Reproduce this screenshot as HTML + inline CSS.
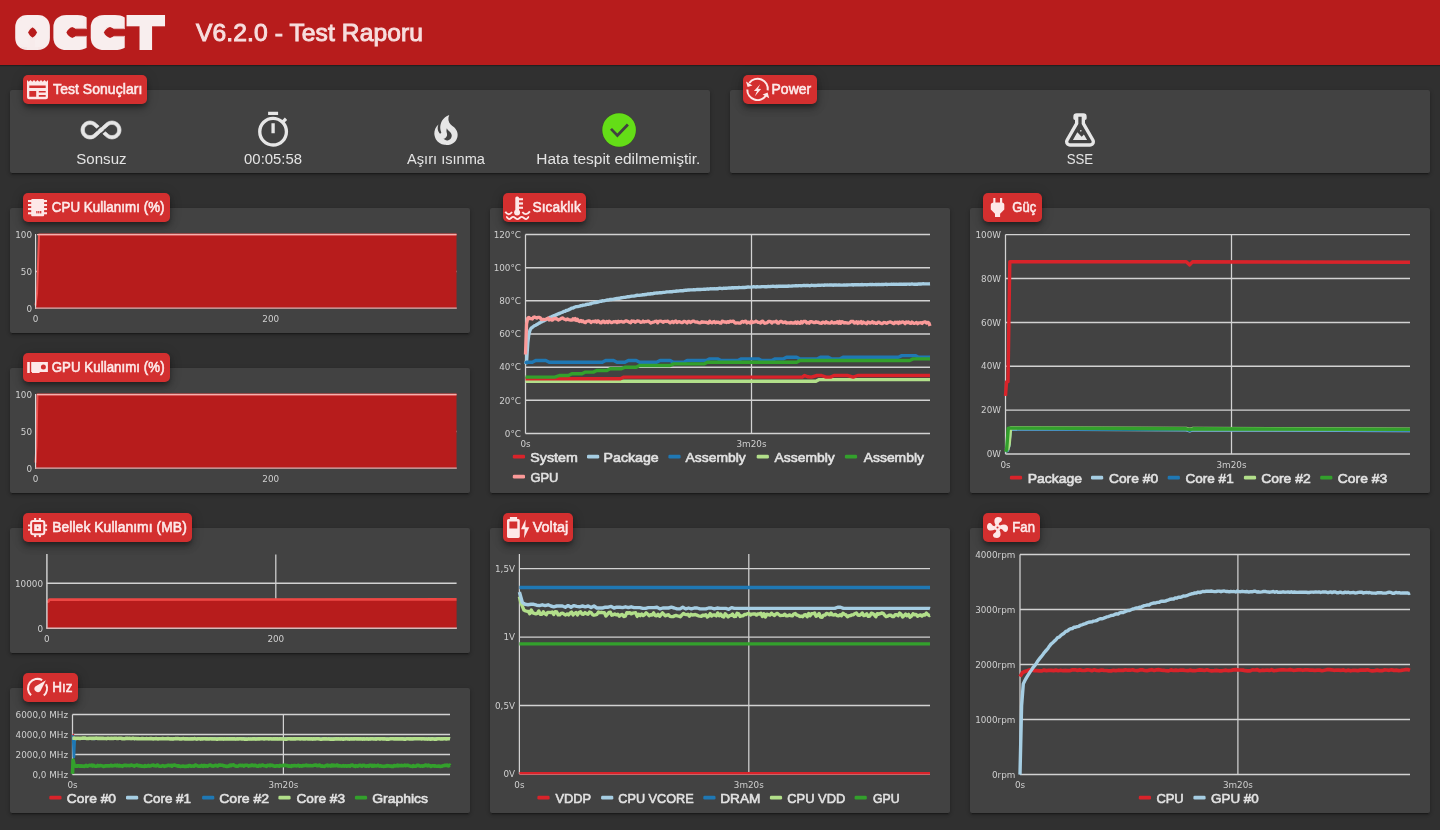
<!DOCTYPE html>
<html lang="tr"><head><meta charset="utf-8"><title>OCCT V6.2.0 - Test Raporu</title>
<style>
*{box-sizing:border-box;margin:0;padding:0}
html,body{width:1440px;height:830px;overflow:hidden;background:#303030;font-family:"Liberation Sans",sans-serif;}
#hdr{position:absolute;left:0;top:0;width:1440px;height:65px;background:#b71c1c;box-shadow:0 1px 1px rgba(0,0,0,.3)}
#title{position:absolute;left:195.6px;top:17.2px;font-size:24.6px;font-weight:normal;color:#f7dede;-webkit-text-stroke:0.95px #f7dede;white-space:nowrap;line-height:32px;letter-spacing:0.1px}
.card{position:absolute;background:#424242;border-radius:2px;box-shadow:0 3px 1px -2px rgba(0,0,0,.25),0 2px 3px 0 rgba(0,0,0,.2),0 1px 5px 0 rgba(0,0,0,.14)}
.tag{position:absolute;height:29px;background:#d32f2f;border-radius:5px;box-shadow:0 3px 5px -1px rgba(0,0,0,.38),0 5px 9px 0 rgba(0,0,0,.2),0 1px 14px 0 rgba(0,0,0,.12);color:#fbe9e9;font-size:14px;font-weight:normal;-webkit-text-stroke:0.55px #fbe9e9;line-height:29px;white-space:nowrap;letter-spacing:0.06px}
.tag span{position:absolute;left:29px;top:0}
.tag svg{position:absolute;left:0;top:0}
.res{position:absolute;text-align:center;color:#e4e4e4;font-size:15px;line-height:18px;white-space:nowrap;transform:translateX(-50%)}
#charts{position:absolute;left:0;top:0}
svg,#title{will-change:transform}
</style></head><body>
<div id="hdr"></div>
<svg id="logo" width="190" height="65" viewBox="0 0 190 65" style="position:absolute;left:0;top:0"><defs><filter id="blk" x="-10%" y="-30%" width="120%" height="160%"><feMorphology operator="dilate" radius="5.0"/></filter></defs><text y="44.50" font-family="DejaVu Sans, sans-serif" font-weight="200" font-size="33.34" fill="#f8eeee" filter="url(#blk)"><tspan x="17.00" textLength="31.12" lengthAdjust="spacingAndGlyphs">O</tspan><tspan x="55.00" textLength="28.82" lengthAdjust="spacingAndGlyphs">C</tspan><tspan x="92.25" textLength="29.75" lengthAdjust="spacingAndGlyphs">C</tspan><tspan x="130.50" textLength="30.61" lengthAdjust="spacingAndGlyphs">T</tspan></text></svg>
<div id="title">V6.2.0 - Test Raporu</div>
<div class="card" style="left:10px;top:90px;width:700px;height:83px"></div>
<div class="card" style="left:730px;top:90px;width:700px;height:83px"></div>
<div class="card" style="left:10px;top:208px;width:460px;height:125px"></div>
<div class="card" style="left:10px;top:368px;width:460px;height:125px"></div>
<div class="card" style="left:10px;top:528px;width:460px;height:125px"></div>
<div class="card" style="left:10px;top:688px;width:460px;height:125px"></div>
<div class="card" style="left:490px;top:208px;width:460px;height:285px"></div>
<div class="card" style="left:490px;top:528px;width:460px;height:285px"></div>
<div class="card" style="left:970px;top:208px;width:460px;height:285px"></div>
<div class="card" style="left:970px;top:528px;width:460px;height:285px"></div>
<div class="tag" style="left:23px;top:75px;width:124px"><svg width="124" height="29" viewBox="0 0 124 29"><path fill-rule="evenodd" fill="#fde8e8" d="M4,5 L5.75,6.7 L7.50,5 L9.25,6.7 L11.00,5 L12.75,6.7 L14.50,5 L16.25,6.7 L18.00,5 L19.75,6.7 L21.50,5 L23.25,6.7 L25.00,5 L25,22.2 Q25,24.2 23,24.2 L6,24.2 Q4,24.2 4,22.2 Z M6.3,10.4 H22.7 V13 H6.3 Z M6.3,16 H13.2 V21.7 H6.3 Z M15.8,16 H22.7 V17.4 H15.8 Z M15.8,20 H22.7 V21.7 H15.8 Z"/><text x="30.12" y="18.7" font-size="13.8" fill="#fdeaea" stroke="#fdeaea" stroke-width="0.55" textLength="89.24" lengthAdjust="spacingAndGlyphs">Test Sonuçları</text></svg></div>
<div class="tag" style="left:743px;top:75px;width:74px"><svg width="74" height="29" viewBox="0 0 74 29"><g fill="none" stroke="#fde8e8" stroke-width="2"><path d="M6.3,8.0 A10.2,10.2 0 0 1 24.7,15.4"/><path d="M4.3,14.6 A10.2,10.2 0 0 0 22.9,20.6"/></g><path fill="#fde8e8" d="M3.0,6.4 L4.6,12.0 L9.4,10.4 Z M26.2,23.2 L24.6,17.4 L19.6,19.4 Z"/><path fill="#fde8e8" d="M17.2,9.2 L10.9,15.9 L14.0,16.1 L11.9,21.2 L18.1,14.0 L15.0,13.8 Z"/><text x="28.52" y="18.7" font-size="13.8" fill="#fdeaea" stroke="#fdeaea" stroke-width="0.55" textLength="39.73" lengthAdjust="spacingAndGlyphs">Power</text></svg></div>
<div class="tag" style="left:23px;top:193px;width:147px"><svg width="147" height="29" viewBox="0 0 147 29"><g fill="#fde8e8"><rect x="5" y="7.0" width="19" height="2.1"/><rect x="5" y="11.0" width="19" height="2.1"/><rect x="5" y="15.0" width="19" height="2.1"/><rect x="5" y="19.2" width="19" height="2.1"/><rect x="8.2" y="5.9" width="12.9" height="17.3" rx="1"/></g><g fill="#d32f2f"><rect x="13.3" y="18" width="1.2" height="2.4"/><rect x="15.2" y="18" width="1.2" height="2.4"/><rect x="17.1" y="18" width="1.2" height="2.4"/></g><text x="28.76" y="18.7" font-size="13.8" fill="#fdeaea" stroke="#fdeaea" stroke-width="0.55" textLength="112.86" lengthAdjust="spacingAndGlyphs">CPU Kullanımı (%)</text></svg></div>
<div class="tag" style="left:23px;top:353px;width:147px"><svg width="147" height="29" viewBox="0 0 147 29"><g fill="#fde8e8"><rect x="4.2" y="9" width="2.6" height="11"/><path d="M8.2,9 H24.9 V18.9 H16.6 V20 H9 V18.9 H8.2 Z"/></g><circle cx="20.4" cy="14.1" r="2.5" fill="#d32f2f"/><text x="28.76" y="18.7" font-size="13.8" fill="#fdeaea" stroke="#fdeaea" stroke-width="0.55" textLength="112.86" lengthAdjust="spacingAndGlyphs">GPU Kullanımı (%)</text></svg></div>
<div class="tag" style="left:23px;top:513px;width:169px"><svg width="169" height="29" viewBox="0 0 169 29"><g fill="#fde8e8"><rect x="11.1" y="5" width="2.1" height="3"/><rect x="15.8" y="5" width="2.1" height="3"/><rect x="11.1" y="21.3" width="2.1" height="2.8"/><rect x="15.8" y="21.3" width="2.1" height="2.8"/><rect x="5" y="11.5" width="3" height="1.9"/><rect x="5" y="15.8" width="3" height="1.9"/><rect x="21.3" y="11.5" width="2.8" height="1.9"/><rect x="21.3" y="15.8" width="2.8" height="1.9"/><rect x="11.2" y="11.2" width="6.8" height="6.8"/></g><rect x="8.1" y="7.9" width="13.2" height="13.4" rx="2" fill="none" stroke="#fde8e8" stroke-width="2"/><circle cx="14.6" cy="14.6" r="0.9" fill="#d32f2f"/><text x="29.26" y="18.7" font-size="13.8" fill="#fdeaea" stroke="#fdeaea" stroke-width="0.55" textLength="134.60" lengthAdjust="spacingAndGlyphs">Bellek Kullanımı (MB)</text></svg></div>
<div class="tag" style="left:23px;top:673px;width:55px"><svg width="55" height="29" viewBox="0 0 55 29"><g fill="none" stroke="#fde8e8" stroke-width="2.1"><path d="M8.02,22.3 A9.5,9.5 0 0 1 19.19,7.09"/><path d="M23.05,11.2 A9.5,9.5 0 0 1 20.81,22.45"/></g><path fill="#fde8e8" d="M22.9,7.2 L12.3,13.5 A3.4,3.4 0 1 0 17.5,17.9 Z"/><text x="29.26" y="18.7" font-size="13.8" fill="#fdeaea" stroke="#fdeaea" stroke-width="0.55" textLength="20.36" lengthAdjust="spacingAndGlyphs">Hız</text></svg></div>
<div class="tag" style="left:503px;top:193px;width:83px"><svg width="83" height="29" viewBox="0 0 83 29"><g fill="#fde8e8"><rect x="12.3" y="3.4" width="3.7" height="15" rx="1.6"/><circle cx="14.1" cy="19.6" r="3"/><rect x="15" y="5.2" width="5" height="2.1"/><rect x="15" y="9.4" width="5" height="2.2"/><rect x="15" y="13.7" width="5" height="2.1"/></g><g fill="none" stroke="#fde8e8" stroke-width="1.9"><path d="M2.3,18.7 Q5.5,23.6 9,19"/><path d="M19.3,19 Q23,23.6 26.9,18.4"/><path d="M3.1,23.9 C4.3,23.9 4.9,26.1 6.1,26.1 C7.6,26.1 8.6,23.9 10.1,23.9 C11.7,23.9 12.9,26.1 14.5,26.1 C16.1,26.1 17.1,23.9 18.7,23.9 C20.3,23.9 21.6,26.1 23.2,26.1 C24.4,26.1 24.9,23.9 26.1,23.9"/></g><text x="29.50" y="18.7" font-size="13.8" fill="#fdeaea" stroke="#fdeaea" stroke-width="0.55" textLength="48.56" lengthAdjust="spacingAndGlyphs">Sıcaklık</text></svg></div>
<div class="tag" style="left:503px;top:513px;width:70px"><svg width="70" height="29" viewBox="0 0 70 29"><path fill="#fde8e8" fill-rule="evenodd" d="M6.9,4 H14.1 V5.9 H15.3 Q16.8,5.9 16.8,7.4 V23.6 Q16.8,25 15.3,25 H5.5 Q4,25 4,23.6 V7.4 Q4,5.9 5.5,5.9 H6.9 Z M6.4,8.4 H14.3 V15.4 H6.4 Z"/><path fill="#fde8e8" d="M22.6,6.6 L18,16.2 L21.6,16.2 L21.0,25.2 L26.3,14.2 L22.4,14.2 Z"/><text x="29.68" y="18.7" font-size="13.8" fill="#fdeaea" stroke="#fdeaea" stroke-width="0.55" textLength="35.62" lengthAdjust="spacingAndGlyphs">Voltaj</text></svg></div>
<div class="tag" style="left:983px;top:193px;width:59px"><svg width="59" height="29" viewBox="0 0 59 29"><path fill="#fde8e8" d="M10.3,5 H12.4 V9.4 H17 V5 H19.2 V9.4 Q21.3,9.6 21.3,11.6 V16.6 L17.1,20.8 V24 H12 V20.8 L7.8,16.6 V11.6 Q7.8,9.6 10.3,9.4 Z"/><text x="29.32" y="18.7" font-size="13.8" fill="#fdeaea" stroke="#fdeaea" stroke-width="0.55" textLength="23.93" lengthAdjust="spacingAndGlyphs">Güç</text></svg></div>
<div class="tag" style="left:983px;top:513px;width:57px"><svg width="57" height="29" viewBox="0 0 57 29"><path fill="#fde8e8" fill-rule="evenodd" transform="translate(1.9,1.9) scale(1.05)" d="M12,11A1,1 0 0,0 11,12A1,1 0 0,0 12,13A1,1 0 0,0 13,12A1,1 0 0,0 12,11M12.5,2C17,2 17.11,5.57 14.75,6.75C13.76,7.24 13.32,8.29 13.13,9.22C13.61,9.42 14.03,9.73 14.35,10.13C18.05,8.13 22.03,8.92 22.03,12.5C22.03,17 18.46,17.1 17.28,14.73C16.78,13.74 15.72,13.3 14.79,13.11C14.59,13.59 14.28,14 13.88,14.34C15.87,18.03 15.08,22 11.5,22C7,22 6.91,18.42 9.27,17.24C10.25,16.75 10.69,15.71 10.89,14.79C10.4,14.59 9.97,14.27 9.65,13.87C5.96,15.85 2,15.07 2,11.5C2,7 5.56,6.89 6.74,9.26C7.24,10.25 8.29,10.68 9.22,10.87C9.41,10.39 9.73,9.97 10.14,9.65C8.15,5.96 8.94,2 12.5,2Z"/><text x="29.32" y="18.7" font-size="13.8" fill="#fdeaea" stroke="#fdeaea" stroke-width="0.55" textLength="22.73" lengthAdjust="spacingAndGlyphs">Fan</text></svg></div>
<svg style="position:absolute;left:0;top:0" width="1440" height="180" viewBox="0 0 1440 180" font-family='"Liberation Sans", sans-serif'><path transform="translate(81.0,110) scale(1.6667)" fill="#e6e6e6" fill-rule="evenodd" d="M18.6,6.62C21.58,6.62 24,9 24,12C24,14.96 21.58,17.37 18.6,17.37C17.15,17.37 15.8,16.81 14.78,15.8L12,13.34L9.17,15.85C8.2,16.82 6.84,17.38 5.4,17.38C2.42,17.38 0,14.96 0,12C0,9.04 2.42,6.62 5.4,6.62C6.84,6.62 8.2,7.18 9.22,8.2L12,10.66L14.83,8.15C15.8,7.18 17.16,6.62 18.6,6.62M7.8,14.39L10.5,12L7.84,9.65C7.16,8.97 6.31,8.62 5.4,8.62C3.53,8.62 2,10.13 2,12C2,13.87 3.53,15.38 5.4,15.38C6.31,15.38 7.16,15.03 7.8,14.39M16.2,9.61L13.5,12L16.16,14.35C16.84,15.03 17.7,15.38 18.6,15.38C20.47,15.38 22,13.87 22,12C22,10.13 20.47,8.62 18.6,8.62C17.69,8.62 16.84,8.97 16.2,9.61Z" stroke="#e6e6e6" stroke-width="0.42"/><g stroke="#424242" stroke-width="1.7" fill="none"><path d="M100.3,134.7 L105.6,130.0"/><path d="M96.4,130.0 L101.7,125.3"/></g><path transform="translate(253.1,110) scale(1.6667)" fill="#e6e6e6" fill-rule="evenodd" d="M12,20A7,7 0 0,1 5,13A7,7 0 0,1 12,6A7,7 0 0,1 19,13A7,7 0 0,1 12,20M19.03,7.39L20.45,5.97C20,5.46 19.55,5 19.04,4.56L17.62,6C16.07,4.74 14.12,4 12,4A9,9 0 0,0 3,13A9,9 0 0,0 12,22C17,22 21,17.97 21,13C21,10.88 20.26,8.93 19.03,7.39M11,14H13V8H11M15,1H9V3H15V1Z"/><path transform="translate(426.0,110) scale(1.6667)" fill="#e6e6e6" fill-rule="evenodd" d="M17.66 11.2C17.43 10.9 17.15 10.64 16.89 10.38C16.22 9.78 15.46 9.35 14.82 8.72C13.33 7.26 13 4.85 13.95 3C13 3.23 12.17 3.75 11.46 4.32C8.87 6.4 7.85 10.07 9.07 13.22C9.11 13.32 9.15 13.42 9.15 13.55C9.15 13.77 9 13.97 8.8 14.05C8.57 14.15 8.33 14.09 8.14 13.93C8.08 13.88 8.04 13.83 8 13.76C6.87 12.33 6.69 10.28 7.45 8.64C5.78 10 4.87 12.3 5 14.47C5.06 14.97 5.12 15.47 5.29 15.97C5.43 16.57 5.7 17.17 6 17.7C7.08 19.43 8.95 20.67 10.96 20.92C13.1 21.19 15.39 20.8 17.03 19.32C18.86 17.66 19.5 15 18.56 12.72L18.43 12.46C18.22 12 17.66 11.2 17.66 11.2M14.5 17.5C14.22 17.74 13.76 18 13.4 18.1C12.28 18.5 11.16 17.94 10.5 17.28C11.69 17 12.4 16.12 12.61 15.23C12.78 14.43 12.46 13.77 12.33 13C12.21 12.26 12.23 11.63 12.5 10.94C12.69 11.32 12.89 11.7 13.13 12C13.9 13 15.11 13.44 15.37 14.8C15.41 14.94 15.43 15.08 15.43 15.23C15.46 16.05 15.1 16.95 14.5 17.5H14.5Z"/><circle cx="619.1" cy="130" r="17.3" fill="#3a4a2c"/><circle cx="619.1" cy="130" r="16.8" fill="#64dd17"/><polyline points="611,128.85 617.4,135.45 627.9,124.5" fill="none" stroke="#414141" stroke-width="2.8"/><path transform="translate(1060.0,110) scale(1.6667)" fill="#e6e6e6" fill-rule="evenodd" d="M5,19A1,1 0 0,0 6,20H18A1,1 0 0,0 19,19C19,18.79 18.93,18.59 18.82,18.43L13,8.35V4H11V8.35L5.18,18.43C5.07,18.59 5,18.79 5,19M6,22A3,3 0 0,1 3,19C3,18.4 3.18,17.84 3.5,17.37L9,7.81V6A1,1 0 0,1 8,5V4A2,2 0 0,1 10,2H14A2,2 0 0,1 16,4V5A1,1 0 0,1 15,6V7.81L20.5,17.37C20.82,17.84 21,18.4 21,19A3,3 0 0,1 18,22H6M13,16L14.34,14.66L16.27,18H7.73L10.39,13.39L13,16M12.5,12A0.5,0.5 0 0,1 13,12.5A0.5,0.5 0 0,1 12.5,13A0.5,0.5 0 0,1 12,12.5A0.5,0.5 0 0,1 12.5,12Z"/><text x="76.32" y="164" font-size="15.2" fill="#e4e4e4" textLength="50.23" lengthAdjust="spacingAndGlyphs">Sonsuz</text><text x="244.08" y="164" font-size="15.2" fill="#e4e4e4" textLength="57.97" lengthAdjust="spacingAndGlyphs">00:05:58</text><text x="407.04" y="164" font-size="15.2" fill="#e4e4e4" textLength="77.96" lengthAdjust="spacingAndGlyphs">Aşırı ısınma</text><text x="536.32" y="164" font-size="15.2" fill="#e4e4e4" textLength="163.90" lengthAdjust="spacingAndGlyphs">Hata tespit edilmemiştir.</text><text x="1066.70" y="164" font-size="15.2" fill="#e4e4e4" textLength="26.51" lengthAdjust="spacingAndGlyphs">SSE</text></svg>
<svg id="charts" width="1440" height="830" viewBox="0 0 1440 830" font-family='"Liberation Sans", sans-serif'>
<line x1="35.5" y1="271.5" x2="456.5" y2="271.5" stroke="#d2d2d2" stroke-width="1.45"/>
<text x="32" y="274.7" text-anchor="end" font-family="DejaVu Sans, sans-serif" font-size="8.8" fill="#cfcfcf">50</text>
<text x="32" y="311.7" text-anchor="end" font-family="DejaVu Sans, sans-serif" font-size="8.8" fill="#cfcfcf">0</text>
<text x="32" y="237.7" text-anchor="end" font-family="DejaVu Sans, sans-serif" font-size="8.8" fill="#cfcfcf">100</text>
<text x="35.5" y="322" text-anchor="middle" font-family="DejaVu Sans, sans-serif" font-size="8.8" fill="#cfcfcf">0</text>
<text x="270.7" y="322" text-anchor="middle" font-family="DejaVu Sans, sans-serif" font-size="8.8" fill="#cfcfcf">200</text>
<polygon points="35.5,308.5 35.5,305.5 37,293.7 39,234.5 456.5,234.5 456.5,308.5" fill="#b71c1c"/>
<polyline points="35.5,305.5 37,293.7 39,234.5 456.5,234.5" fill="none" stroke="#ef5350" stroke-width="2" stroke-linejoin="round"/>
<line x1="37" y1="234.6" x2="456.5" y2="234.6" stroke="#f3b0ae" stroke-width="1.1"/>
<line x1="35.6" y1="234" x2="35.6" y2="309" stroke="#e0e0e0" stroke-width="1.1"/>
<line x1="35" y1="308.2" x2="456.8" y2="308.2" stroke="#d0b4b4" stroke-width="1.3"/>
<line x1="35.5" y1="431.5" x2="456.5" y2="431.5" stroke="#d2d2d2" stroke-width="1.45"/>
<text x="32" y="434.7" text-anchor="end" font-family="DejaVu Sans, sans-serif" font-size="8.8" fill="#cfcfcf">50</text>
<text x="32" y="471.7" text-anchor="end" font-family="DejaVu Sans, sans-serif" font-size="8.8" fill="#cfcfcf">0</text>
<text x="32" y="397.7" text-anchor="end" font-family="DejaVu Sans, sans-serif" font-size="8.8" fill="#cfcfcf">100</text>
<text x="35.5" y="482" text-anchor="middle" font-family="DejaVu Sans, sans-serif" font-size="8.8" fill="#cfcfcf">0</text>
<text x="270.7" y="482" text-anchor="middle" font-family="DejaVu Sans, sans-serif" font-size="8.8" fill="#cfcfcf">200</text>
<polygon points="35.5,468.5 35.5,462.6 36.4,446.3 37.4,394.5 456.5,394.5 456.5,468.5" fill="#b71c1c"/>
<polyline points="35.5,462.6 36.4,446.3 37.4,394.5 456.5,394.5" fill="none" stroke="#ef5350" stroke-width="2" stroke-linejoin="round"/>
<line x1="37" y1="394.6" x2="456.5" y2="394.6" stroke="#f3b0ae" stroke-width="1.1"/>
<line x1="35.6" y1="394" x2="35.6" y2="469" stroke="#e0e0e0" stroke-width="1.1"/>
<line x1="35" y1="468.2" x2="456.8" y2="468.2" stroke="#d0b4b4" stroke-width="1.3"/>
<line x1="46.9" y1="628.3" x2="456.6" y2="628.3" stroke="#d2d2d2" stroke-width="1.45"/>
<text x="43" y="631.5" text-anchor="end" font-family="DejaVu Sans, sans-serif" font-size="8.8" fill="#cfcfcf">0</text>
<line x1="46.9" y1="583.3" x2="456.6" y2="583.3" stroke="#d2d2d2" stroke-width="1.45"/>
<text x="43" y="586.5" text-anchor="end" font-family="DejaVu Sans, sans-serif" font-size="8.8" fill="#cfcfcf">10000</text>
<line x1="275.8" y1="554.5" x2="275.8" y2="628.3" stroke="#d2d2d2" stroke-width="1.25"/>
<text x="275.8" y="642" text-anchor="middle" font-family="DejaVu Sans, sans-serif" font-size="8.8" fill="#cfcfcf">200</text>
<text x="46.9" y="642" text-anchor="middle" font-family="DejaVu Sans, sans-serif" font-size="8.8" fill="#cfcfcf">0</text>
<polygon points="46.9,628.3 46.9,601.9 48.3,601.5 49.4,599.6 456.6,599.4 456.6,628.3" fill="#b71c1c"/>
<polyline points="46.9,601.9 48.3,601.5 49.4,599.6 456.6,599.4" fill="none" stroke="#ee4744" stroke-width="2.6" stroke-linejoin="round"/>
<line x1="46.9" y1="554" x2="46.9" y2="628.8" stroke="#d2d2d2" stroke-width="1.45"/>
<line x1="46.3" y1="628.2" x2="456.8" y2="628.2" stroke="#d8c0c0" stroke-width="1.2"/>
<line x1="72.5" y1="774.5" x2="450" y2="774.5" stroke="#d2d2d2" stroke-width="1.45"/>
<text x="68" y="777.7" text-anchor="end" font-family="DejaVu Sans, sans-serif" font-size="8.8" fill="#cfcfcf">0,0 MHz</text>
<line x1="72.5" y1="754.5" x2="450" y2="754.5" stroke="#d2d2d2" stroke-width="1.45"/>
<text x="68" y="757.7" text-anchor="end" font-family="DejaVu Sans, sans-serif" font-size="8.8" fill="#cfcfcf">2000,0 MHz</text>
<line x1="72.5" y1="734.5" x2="450" y2="734.5" stroke="#d2d2d2" stroke-width="1.45"/>
<text x="68" y="737.7" text-anchor="end" font-family="DejaVu Sans, sans-serif" font-size="8.8" fill="#cfcfcf">4000,0 MHz</text>
<line x1="72.5" y1="714.5" x2="450" y2="714.5" stroke="#d2d2d2" stroke-width="1.45"/>
<text x="68" y="717.7" text-anchor="end" font-family="DejaVu Sans, sans-serif" font-size="8.8" fill="#cfcfcf">6000,0 MHz</text>
<line x1="72.5" y1="714.5" x2="72.5" y2="774.5" stroke="#d2d2d2" stroke-width="1.25"/>
<text x="72.5" y="788" text-anchor="middle" font-family="DejaVu Sans, sans-serif" font-size="8.8" fill="#cfcfcf">0s</text>
<line x1="283.4" y1="714.5" x2="283.4" y2="774.5" stroke="#d2d2d2" stroke-width="1.25"/>
<text x="283.4" y="788" text-anchor="middle" font-family="DejaVu Sans, sans-serif" font-size="8.8" fill="#cfcfcf">3m20s</text>
<polyline points="72.5,735 73.2,736.5 73.9,757 74.7,738.5" fill="none" stroke="#1f78b4" stroke-width="2.8" stroke-linejoin="round" stroke-linecap="butt"/>
<polyline points="72.5,734.5 74.1,734.7" fill="none" stroke="#d9232a" stroke-width="1.6" stroke-linejoin="round" stroke-linecap="butt"/>
<polyline points="72.5,773.9 73.1,760 74.2,765.5 75,765.9 75.9,766.2 76.7,765.7 77.6,766.2 78.4,765.8 79.2,765.9 80.1,766.3 80.9,765.9 81.8,766.3 82.6,766 83.5,766.3 84.3,766.4 85.2,766 86,765.4 86.8,766.1 87.7,766.1 88.5,765.7 89.4,765.2 90.2,765.4 91.1,765.7 91.9,765.1 92.7,766.1 93.6,765.4 94.4,765.9 95.3,766.2 96.1,766.3 97,766.1 97.8,765.4 98.7,766 99.5,765.7 100.3,765.5 101.2,765.8 102,765.7 102.9,766.2 103.7,766.4 104.6,766.3 105.4,765.7 106.2,765.8 107.1,765.9 107.9,765.7 108.8,765.7 109.6,766 110.5,765.4 111.3,765.4 112.1,765.9 113,765.7 113.8,765.7 114.7,765.2 115.5,765.3 116.4,765.8 117.2,765.2 118.1,766 118.9,765.9 119.7,765.4 120.6,766 121.4,765.8 122.3,766.3 123.1,765.7 124,765.4 124.8,765.5 125.6,765.2 126.5,765.8 127.3,765.5 128.2,765.5 129,765.6 129.9,765.7 130.7,765.3 131.6,765.1 132.4,765.5 133.2,765.5 134.1,766.1 134.9,765.6 135.8,765.5 136.6,765.1 137.5,765.1 138.3,765.8 139.1,765.9 140,765.5 140.8,766.2 141.7,765.9 142.5,766.2 143.4,766.3 144.2,766.4 145,765.6 145.9,766.1 146.7,766.1 147.6,766 148.4,765.3 149.3,766.1 150.1,765.9 151,765.7 151.8,765.2 152.6,765.2 153.5,765.1 154.3,765.8 155.2,765.8 156,765.9 156.9,765.3 157.7,765 158.5,765.9 159.4,766.2 160.2,766.2 161.1,766.2 161.9,765.9 162.8,765.6 163.6,766 164.4,766.4 165.3,766 166.1,765.9 167,765.7 167.8,765.2 168.7,765.3 169.5,765.6 170.4,765.5 171.2,765.4 172,766.2 172.9,765.4 173.7,765.3 174.6,765.1 175.4,765.2 176.3,765.7 177.1,765.8 177.9,766.2 178.8,765.7 179.6,766.2 180.5,766.4 181.3,766.2 182.2,766.3 183,766.1 183.9,766.3 184.7,766.5 185.5,766.4 186.4,766.4 187.2,766.1 188.1,766.4 188.9,765.5 189.8,765.5 190.6,766.1 191.4,766.1 192.3,766 193.1,766 194,766.2 194.8,765.4 195.7,765 196.5,765.5 197.3,765.7 198.2,766.2 199,766.3 199.9,766.1 200.7,766.1 201.6,765.4 202.4,766 203.3,766.4 204.1,765.4 204.9,765.6 205.8,766.1 206.6,765.8 207.5,766.3 208.3,765.8 209.2,765.2 210,765.1 210.8,765.3 211.7,765.9 212.5,765.9 213.4,766.2 214.2,765.5 215.1,765.6 215.9,765.3 216.8,765.8 217.6,766.1 218.4,765.4 219.3,765 220.1,765.1 221,765.2 221.8,765.2 222.7,765.3 223.5,765.9 224.3,765.7 225.2,765.9 226,766.3 226.9,766.4 227.7,766.2 228.6,766.1 229.4,765.6 230.2,765.1 231.1,765.6 231.9,765.1 232.8,765 233.6,764.9 234.5,765.6 235.3,766 236.2,766.1 237,766.2 237.8,766.2 238.7,765.7 239.5,765.2 240.4,765.2 241.2,765.6 242.1,765.5 242.9,765.3 243.7,766.1 244.6,765.6 245.4,765.2 246.3,765.2 247.1,765.3 248,765.6 248.8,766.1 249.7,765.5 250.5,765.8 251.3,765.4 252.2,765 253,765.6 253.9,765.8 254.7,765.2 255.6,765.3 256.4,766 257.2,766.2 258.1,766.3 258.9,765.4 259.8,765.2 260.6,766 261.5,765.4 262.3,765 263.1,765.3 264,765.8 264.8,765.7 265.7,766.1 266.5,766.4 267.4,765.4 268.2,765.4 269.1,765.6 269.9,765.1 270.7,765.6 271.6,765.2 272.4,765.2 273.3,765.9 274.1,766.1 275,766.1 275.8,766.1 276.6,765.7 277.5,766 278.3,765.9 279.2,766.2 280,765.4 280.9,765.8 281.7,765.8 282.6,765.6 283.4,765.2 284.2,765.6 285.1,765.2 285.9,765.5 286.8,765.6 287.6,765.6 288.5,766.3 289.3,765.9 290.1,766.1 291,766.4 291.8,765.6 292.7,766 293.5,765.8 294.4,765.5 295.2,765.6 296,765.9 296.9,765.7 297.7,765.6 298.6,765.3 299.4,766.1 300.3,765.7 301.1,766 302,766.1 302.8,765.5 303.6,765.6 304.5,765.6 305.3,765.4 306.2,765.1 307,765.6 307.9,765.5 308.7,765.6 309.5,765.7 310.4,765.5 311.2,765.7 312.1,765.7 312.9,765.7 313.8,765.2 314.6,765.3 315.4,765.1 316.3,765 317.1,765.8 318,765.7 318.8,765.2 319.7,765.1 320.5,766 321.4,766.2 322.2,765.9 323,766.3 323.9,766.2 324.7,766.4 325.6,765.7 326.4,765.4 327.3,765.1 328.1,765.9 328.9,765.5 329.8,765.5 330.6,766.1 331.5,765.3 332.3,765 333.2,765.8 334,765.2 334.9,765.7 335.7,765.7 336.5,765.1 337.4,765.1 338.2,765.9 339.1,765.9 339.9,765.7 340.8,765.9 341.6,766.1 342.4,766 343.3,765.5 344.1,766.2 345,765.8 345.8,765.8 346.7,766.3 347.5,766.1 348.3,765.7 349.2,765.7 350,766.2 350.9,765.3 351.7,765.2 352.6,765 353.4,766 354.3,766.1 355.1,766.4 355.9,765.6 356.8,765.9 357.6,766.2 358.5,765.9 359.3,765.3 360.2,765.2 361,765.8 361.8,766.2 362.7,765.3 363.5,765.5 364.4,765.4 365.2,766.1 366.1,766.3 366.9,765.7 367.8,765.8 368.6,766.2 369.4,765.3 370.3,765.4 371.1,765.3 372,766.1 372.8,765.4 373.7,766.1 374.5,765.4 375.3,765.7 376.2,765.9 377,765.7 377.9,765.2 378.7,765.8 379.6,766.2 380.4,765.8 381.2,766 382.1,766.3 382.9,766.3 383.8,766.4 384.6,766.3 385.5,766.1 386.3,766.1 387.2,765.5 388,765.9 388.8,765.8 389.7,766.1 390.5,766 391.4,766.4 392.2,766.2 393.1,766.4 393.9,765.6 394.7,765.6 395.6,766 396.4,765.8 397.3,765.2 398.1,766 399,765.4 399.8,765.7 400.7,765.7 401.5,765.3 402.3,765.7 403.2,765.7 404,765.5 404.9,765.1 405.7,765.7 406.6,765.3 407.4,765.3 408.2,765.4 409.1,765.7 409.9,765.9 410.8,766.3 411.6,766.3 412.5,766.4 413.3,765.6 414.1,766 415,766.2 415.8,766.3 416.7,765.5 417.5,765.2 418.4,765.3 419.2,765.9 420.1,766.1 420.9,766.1 421.7,765.9 422.6,766.2 423.4,765.9 424.3,766 425.1,765.3 426,765 426.8,765.4 427.6,765.9 428.5,765.2 429.3,765.8 430.2,765.9 431,766.4 431.9,766 432.7,765.8 433.6,765.7 434.4,766.1 435.2,765.8 436.1,766.3 436.9,766.2 437.8,766.3 438.6,766 439.5,766.3 440.3,766.5 441.1,766.2 442,766.2 442.8,765.7 443.7,765.7 444.5,765.4 445.4,765.4 446.2,765.4 447,765.1 447.9,765.7 448.7,765.9 449.6,765.2 450,765.7" fill="none" stroke="#33a02c" stroke-width="3.6" stroke-linejoin="round" stroke-linecap="butt"/>
<polyline points="72.5,738.8 73.6,738.5 74.6,738.5 75.7,738.8 76.7,738.5 77.8,738.4 78.8,738.5 79.9,738.4 80.9,738.4 82,738.7 83,738.6 84.1,738.6 85.2,738.4 86.2,738.4 87.3,738.4 88.3,738.5 89.4,738.4 90.4,738.4 91.5,738.5 92.5,738.7 93.6,738.9 94.6,738.9 95.7,738.7 96.8,738.8 97.8,738.5 98.9,738.5 99.9,738.5 101,738.5 102,738.5 103.1,738.6 104.1,738.8 105.2,738.5 106.2,738.5 107.3,738.6 108.4,738.6 109.4,738.5 110.5,738.8 111.5,738.5 112.6,738.7 113.6,738.8 114.7,738.8 115.7,738.5 116.8,738.7 117.8,738.5 118.9,738.3 120,738.5 121,738.6 122.1,738.6 123.1,738.5 124.2,738.4 125.2,738.5 126.3,738.5 127.3,738.8 128.4,738.8 129.4,738.8 130.5,738.5 131.6,738.7 132.6,738.6 133.7,738.8 134.7,738.9 135.8,738.8 136.8,738.6 137.9,738.5 138.9,738.5 140,738.7 141,738.6 142.1,738.6 143.1,738.6 144.2,738.8 145.3,738.5 146.3,738.7 147.4,738.4 148.4,738.3 149.5,738.8 150.5,738.7 151.6,738.5 152.6,738.3 153.7,738.5 154.7,738.7 155.8,738.8 156.9,738.4 157.9,738.7 159,738.6 160,738.8 161.1,738.6 162.1,738.4 163.2,738.7 164.2,738.5 165.3,738.6 166.3,738.4 167.4,738.4 168.5,738.7 169.5,738.4 170.6,738.6 171.6,738.8 172.7,738.9 173.7,738.7 174.8,738.7 175.8,738.7 176.9,738.8 177.9,738.7 179,738.7 180.1,738.5 181.1,738.8 182.2,738.5 183.2,738.4 184.3,738.7 185.3,738.4 186.4,738.4 187.4,738.4 188.5,738.6 189.5,738.7 190.6,738.7 191.7,738.4 192.7,738.5 193.8,738.6 194.8,738.6 195.9,738.7 196.9,738.9 198,738.9 199,738.5 200.1,738.7 201.1,738.4 202.2,738.7 203.3,738.7 204.3,738.6 205.4,738.8 206.4,738.7 207.5,738.4 208.5,738.4 209.6,738.4 210.6,738.5 211.7,738.4 212.7,738.3 213.8,738.5 214.9,738.5 215.9,738.8 217,738.5 218,738.6 219.1,738.5 220.1,738.5 221.2,738.7 222.2,738.8 223.3,738.5 224.3,738.7 225.4,738.7 226.5,738.7 227.5,738.7 228.6,738.5 229.6,738.3 230.7,738.6 231.7,738.5 232.8,738.7 233.8,738.6 234.9,738.7 235.9,738.8 237,738.8 238.1,738.8 239.1,738.5 240.2,738.6 241.2,738.7 242.3,738.4 243.3,738.3 244.4,738.5 245.4,738.8 246.5,738.8 247.5,738.9 248.6,738.8 249.7,738.8 250.7,738.8 251.8,738.8 252.8,738.6 253.9,738.4 254.9,738.4 256,738.6 257,738.6 258.1,738.6 259.1,738.7 260.2,738.7 261.2,738.8 262.3,738.8 263.4,738.4 264.4,738.7 265.5,738.6 266.5,738.5 267.6,738.4 268.6,738.7 269.7,738.7 270.7,738.8 271.8,738.7 272.8,738.7 273.9,738.4 275,738.4 276,738.3 277.1,738.8 278.1,738.9 279.2,738.6 280.2,738.4 281.3,738.6 282.3,738.5 283.4,738.8 284.4,738.7 285.5,738.4 286.6,738.4 287.6,738.4 288.7,738.3 289.7,738.6 290.8,738.8 291.8,738.8 292.9,738.7 293.9,738.5 295,738.4 296,738.4 297.1,738.5 298.2,738.4 299.2,738.6 300.3,738.6 301.3,738.8 302.4,738.5 303.4,738.7 304.5,738.4 305.5,738.5 306.6,738.7 307.6,738.8 308.7,738.8 309.8,738.6 310.8,738.5 311.9,738.8 312.9,738.9 314,738.7 315,738.6 316.1,738.6 317.1,738.8 318.2,738.6 319.2,738.8 320.3,738.8 321.4,738.7 322.4,738.4 323.5,738.5 324.5,738.4 325.6,738.5 326.6,738.7 327.7,738.8 328.7,738.4 329.8,738.4 330.8,738.6 331.9,738.8 333,738.7 334,738.5 335.1,738.6 336.1,738.7 337.2,738.6 338.2,738.4 339.3,738.7 340.3,738.8 341.4,738.8 342.4,738.7 343.5,738.5 344.6,738.7 345.6,738.5 346.7,738.5 347.7,738.6 348.8,738.7 349.8,738.4 350.9,738.6 351.9,738.5 353,738.7 354,738.8 355.1,738.5 356.2,738.7 357.2,738.4 358.3,738.5 359.3,738.7 360.4,738.8 361.4,738.7 362.5,738.5 363.5,738.4 364.6,738.7 365.6,738.7 366.7,738.8 367.8,738.4 368.8,738.7 369.9,738.9 370.9,738.9 372,738.7 373,738.4 374.1,738.4 375.1,738.4 376.2,738.3 377.2,738.3 378.3,738.6 379.4,738.8 380.4,738.4 381.5,738.4 382.5,738.8 383.6,738.6 384.6,738.7 385.7,738.7 386.7,738.7 387.8,738.8 388.8,738.9 389.9,738.8 390.9,738.7 392,738.4 393.1,738.7 394.1,738.4 395.2,738.7 396.2,738.7 397.3,738.5 398.3,738.4 399.4,738.6 400.4,738.8 401.5,738.7 402.5,738.7 403.6,738.4 404.7,738.7 405.7,738.7 406.8,738.4 407.8,738.8 408.9,738.7 409.9,738.5 411,738.4 412,738.8 413.1,738.9 414.1,738.9 415.2,738.5 416.3,738.7 417.3,738.5 418.4,738.4 419.4,738.6 420.5,738.7 421.5,738.4 422.6,738.5 423.6,738.7 424.7,738.5 425.7,738.7 426.8,738.7 427.9,738.9 428.9,738.6 430,738.4 431,738.5 432.1,738.3 433.1,738.8 434.2,738.8 435.2,738.7 436.3,738.4 437.3,738.3 438.4,738.6 439.5,738.7 440.5,738.7 441.6,738.6 442.6,738.4 443.7,738.7 444.7,738.5 445.8,738.4 446.8,738.4 447.9,738.4 448.9,738.5 450,738.7" fill="none" stroke="#a6cee3" stroke-width="2.5" stroke-linejoin="round" stroke-linecap="butt"/>
<polyline points="72.5,738.3 73.4,738.3 74.4,738.1 75.3,738.4 76.3,738.4 77.2,738.2 78.2,738.3 79.1,738.4 80.1,738.5 81,738.3 82,738.3 82.9,738.1 83.9,738 84.8,738 85.8,738.3 86.7,738.5 87.7,738.5 88.6,738.4 89.6,738.2 90.5,738.3 91.5,738.4 92.4,738.4 93.4,738.3 94.3,738.2 95.3,738.2 96.2,738.1 97.2,738.2 98.1,738.5 99.1,738.2 100,738.4 101,738.3 101.9,738.4 102.9,738.3 103.8,738.5 104.8,738.5 105.7,738.5 106.7,738.6 107.6,738.3 108.6,738.3 109.5,738.5 110.5,738.5 111.4,738.2 112.4,738.4 113.3,738.5 114.3,738.3 115.2,738.3 116.2,738.2 117.1,738.5 118.1,738.5 119,738.3 120,738.3 120.9,738.2 121.8,738.6 122.8,738.6 123.7,738.7 124.7,738.7 125.6,738.4 126.6,738.4 127.5,738.3 128.5,738.5 129.4,738.4 130.4,738.5 131.3,738.6 132.3,738.4 133.2,738.3 134.2,738.6 135.1,738.5 136.1,738.5 137,738.7 138,738.6 138.9,738.7 139.9,738.7 140.8,738.7 141.8,738.6 142.7,738.5 143.7,738.7 144.6,738.8 145.6,738.7 146.5,738.6 147.5,738.7 148.4,738.7 149.4,738.8 150.3,738.6 151.3,738.6 152.2,738.8 153.2,738.9 154.1,738.8 155.1,738.7 156,738.6 157,738.8 157.9,738.9 158.9,738.7 159.8,738.7 160.8,738.8 161.7,738.8 162.7,738.5 163.6,738.7 164.6,738.7 165.5,738.8 166.5,738.8 167.4,738.6 168.4,738.5 169.3,738.7 170.2,738.9 171.2,738.7 172.1,738.9 173.1,739 174,738.7 175,738.8 175.9,738.6 176.9,738.8 177.8,738.6 178.8,738.8 179.7,738.9 180.7,739 181.6,738.9 182.6,738.8 183.5,738.6 184.5,738.9 185.4,738.8 186.4,738.9 187.3,738.8 188.3,739 189.2,739 190.2,738.9 191.1,738.7 192.1,739 193,738.9 194,738.8 194.9,738.6 195.9,738.9 196.8,739.1 197.8,738.8 198.7,738.7 199.7,738.8 200.6,739.1 201.6,738.8 202.5,738.9 203.5,738.7 204.4,738.8 205.4,738.7 206.3,739 207.3,738.8 208.2,739 209.2,739 210.1,738.8 211.1,738.7 212,739 213,739 213.9,739 214.9,738.9 215.8,739 216.8,739.1 217.7,739.1 218.6,738.9 219.6,738.7 220.5,739 221.5,738.9 222.4,738.8 223.4,739.1 224.3,738.8 225.3,739 226.2,738.9 227.2,738.9 228.1,738.8 229.1,739 230,739 231,738.9 231.9,738.9 232.9,738.8 233.8,738.9 234.8,738.9 235.7,739.1 236.7,738.9 237.6,738.9 238.6,739 239.5,738.8 240.5,738.8 241.4,738.9 242.4,739 243.3,738.9 244.3,739.1 245.2,739.1 246.2,739 247.1,739.1 248.1,739 249,738.9 250,739.1 250.9,738.9 251.9,739.1 252.8,738.9 253.8,738.8 254.7,738.9 255.7,739.1 256.6,739 257.6,739 258.5,738.7 259.5,739 260.4,738.8 261.4,738.7 262.3,738.7 263.3,738.7 264.2,739 265.2,738.7 266.1,738.8 267,738.7 268,738.7 268.9,739 269.9,738.8 270.8,738.7 271.8,739 272.7,739 273.7,738.8 274.6,739 275.6,738.8 276.5,739 277.5,738.8 278.4,739 279.4,738.9 280.3,738.7 281.3,739 282.2,739 283.2,738.9 284.1,739 285.1,739.1 286,739.1 287,739.1 287.9,738.8 288.9,738.8 289.8,738.7 290.8,739 291.7,738.8 292.7,739 293.6,738.9 294.6,738.9 295.5,738.9 296.5,738.8 297.4,738.8 298.4,738.8 299.3,738.7 300.3,739 301.2,738.7 302.2,738.8 303.1,738.9 304.1,738.8 305,739 306,738.7 306.9,738.8 307.9,738.9 308.8,738.8 309.8,738.9 310.7,739 311.7,738.8 312.6,739.1 313.6,738.8 314.5,739 315.4,738.9 316.4,738.7 317.3,738.8 318.3,738.8 319.2,738.9 320.2,739.1 321.1,739.2 322.1,739.1 323,738.9 324,738.9 324.9,738.9 325.9,738.7 326.8,739 327.8,739 328.7,738.9 329.7,739.1 330.6,739.2 331.6,739 332.5,739.1 333.5,739 334.4,739.1 335.4,738.9 336.3,738.9 337.3,739 338.2,738.9 339.2,738.9 340.1,739.1 341.1,738.8 342,739 343,739.1 343.9,739.1 344.9,738.9 345.8,738.7 346.8,738.7 347.7,738.9 348.7,739 349.6,739.1 350.6,738.9 351.5,738.9 352.5,739 353.4,738.9 354.4,738.9 355.3,738.7 356.3,738.7 357.2,739 358.2,738.7 359.1,739 360.1,738.9 361,738.9 362,739 362.9,739.1 363.8,738.8 364.8,739.1 365.7,738.9 366.7,738.7 367.6,739 368.6,739.1 369.5,738.9 370.5,738.9 371.4,738.8 372.4,738.8 373.3,739 374.3,739 375.2,739 376.2,739.1 377.1,738.8 378.1,738.8 379,738.8 380,739.1 380.9,738.8 381.9,738.8 382.8,738.9 383.8,738.8 384.7,738.9 385.7,739 386.6,739.1 387.6,739.1 388.5,739.1 389.5,739 390.4,738.8 391.4,738.8 392.3,738.7 393.3,738.8 394.2,739 395.2,738.9 396.1,738.9 397.1,738.8 398,738.9 399,739 399.9,738.9 400.9,738.7 401.8,739 402.8,738.8 403.7,739.1 404.7,739 405.6,739.1 406.6,738.8 407.5,738.7 408.5,738.7 409.4,738.9 410.4,738.7 411.3,738.9 412.2,739 413.2,738.8 414.1,738.8 415.1,738.8 416,738.8 417,738.7 417.9,738.8 418.9,738.7 419.8,738.8 420.8,738.7 421.7,738.9 422.7,738.8 423.6,738.8 424.6,739 425.5,739 426.5,738.9 427.4,739.1 428.4,738.8 429.3,739 430.3,739.1 431.2,739.1 432.2,738.8 433.1,738.9 434.1,739.1 435,739.1 436,739.2 436.9,738.9 437.9,738.8 438.8,738.8 439.8,738.8 440.7,739 441.7,738.9 442.6,739 443.6,738.8 444.5,738.7 445.5,738.7 446.4,739 447.4,738.8 448.3,738.7 449.3,738.7 450,738.9" fill="none" stroke="#b2df8a" stroke-width="3.6" stroke-linejoin="round" stroke-linecap="butt"/>
<rect x="49.3" y="795.8" width="12.2" height="3.8" rx="1.3" fill="#d9232a"/>
<text x="66.88" y="802.6" font-size="13.5" fill="#e2e2e2" stroke="#e2e2e2" stroke-width="0.6" textLength="49.18" lengthAdjust="spacingAndGlyphs">Core #0</text>
<rect x="126" y="795.8" width="12.2" height="3.8" rx="1.3" fill="#a6cee3"/>
<text x="143.32" y="802.6" font-size="13.5" fill="#e2e2e2" stroke="#e2e2e2" stroke-width="0.6" textLength="47.68" lengthAdjust="spacingAndGlyphs">Core #1</text>
<rect x="202.1" y="795.8" width="12.2" height="3.8" rx="1.3" fill="#1f78b4"/>
<text x="219.20" y="802.6" font-size="13.5" fill="#e2e2e2" stroke="#e2e2e2" stroke-width="0.6" textLength="49.98" lengthAdjust="spacingAndGlyphs">Core #2</text>
<rect x="278.4" y="795.8" width="12.2" height="3.8" rx="1.3" fill="#b2df8a"/>
<text x="296.44" y="802.6" font-size="13.5" fill="#e2e2e2" stroke="#e2e2e2" stroke-width="0.6" textLength="48.56" lengthAdjust="spacingAndGlyphs">Core #3</text>
<rect x="354.9" y="795.8" width="12.2" height="3.8" rx="1.3" fill="#33a02c"/>
<text x="372.20" y="802.6" font-size="13.5" fill="#e2e2e2" stroke="#e2e2e2" stroke-width="0.6" textLength="55.92" lengthAdjust="spacingAndGlyphs">Graphics</text>
<line x1="525.5" y1="433.5" x2="930" y2="433.5" stroke="#d2d2d2" stroke-width="1.45"/>
<text x="521" y="436.7" text-anchor="end" font-family="DejaVu Sans, sans-serif" font-size="8.8" fill="#cfcfcf">0°C</text>
<line x1="525.5" y1="400.3" x2="930" y2="400.3" stroke="#d2d2d2" stroke-width="1.45"/>
<text x="521" y="403.5" text-anchor="end" font-family="DejaVu Sans, sans-serif" font-size="8.8" fill="#cfcfcf">20°C</text>
<line x1="525.5" y1="367.2" x2="930" y2="367.2" stroke="#d2d2d2" stroke-width="1.45"/>
<text x="521" y="370.4" text-anchor="end" font-family="DejaVu Sans, sans-serif" font-size="8.8" fill="#cfcfcf">40°C</text>
<line x1="525.5" y1="334" x2="930" y2="334" stroke="#d2d2d2" stroke-width="1.45"/>
<text x="521" y="337.2" text-anchor="end" font-family="DejaVu Sans, sans-serif" font-size="8.8" fill="#cfcfcf">60°C</text>
<line x1="525.5" y1="300.8" x2="930" y2="300.8" stroke="#d2d2d2" stroke-width="1.45"/>
<text x="521" y="304" text-anchor="end" font-family="DejaVu Sans, sans-serif" font-size="8.8" fill="#cfcfcf">80°C</text>
<line x1="525.5" y1="267.7" x2="930" y2="267.7" stroke="#d2d2d2" stroke-width="1.45"/>
<text x="521" y="270.9" text-anchor="end" font-family="DejaVu Sans, sans-serif" font-size="8.8" fill="#cfcfcf">100°C</text>
<line x1="525.5" y1="234.5" x2="930" y2="234.5" stroke="#d2d2d2" stroke-width="1.45"/>
<text x="521" y="237.7" text-anchor="end" font-family="DejaVu Sans, sans-serif" font-size="8.8" fill="#cfcfcf">120°C</text>
<line x1="525.5" y1="234.5" x2="525.5" y2="433.5" stroke="#d2d2d2" stroke-width="1.25"/>
<text x="525.5" y="447" text-anchor="middle" font-family="DejaVu Sans, sans-serif" font-size="8.8" fill="#cfcfcf">0s</text>
<line x1="751.5" y1="234.5" x2="751.5" y2="433.5" stroke="#d2d2d2" stroke-width="1.25"/>
<text x="751.5" y="447" text-anchor="middle" font-family="DejaVu Sans, sans-serif" font-size="8.8" fill="#cfcfcf">3m20s</text>
<polyline points="525.5,381.3 815.9,381.3 819.3,379.6 930,379.6" fill="none" stroke="#b2df8a" stroke-width="3.4" stroke-linejoin="round" stroke-linecap="butt"/>
<polyline points="525.5,378.8 620.4,378.8 623.8,377.1 802.3,377.1 804.6,375.5 808,376.8 811.4,377.1 817,375.5 821.5,375.5 826.1,377.1 830.6,377.1 834,375.5 847.5,375.5 853.2,377.1 857.7,375.5 930,375.5" fill="none" stroke="#d9232a" stroke-width="3.4" stroke-linejoin="round" stroke-linecap="butt"/>
<polyline points="525.5,364 526.6,360.7 527.8,342.7 528.9,333.9 530,330.3 531.1,328.2 532.3,327.4 533.4,326.5 534.5,325.7 535.7,325.2 536.8,324.6 537.9,324 539.1,323.1 540.2,322.6 541.3,322 542.4,321.4 543.6,321 544.7,320.3 545.8,319.7 547,319 548.1,318.6 549.2,318.1 550.4,317.2 551.5,316.9 552.6,316.2 553.7,315.7 554.9,315.5 556,314.9 557.1,314.4 558.3,313.8 559.4,313.5 560.5,312.9 561.7,312.5 562.8,312.1 563.9,311.4 565,311.3 566.2,310.5 567.3,310.3 568.4,309.9 569.6,309.4 570.7,308.7 571.8,308.1 573,308 574.1,307.4 575.2,307 576.3,306.6 577.5,306.6 578.6,306.3 579.7,306.1 580.9,305.6 582,305.6 583.1,305.1 584.3,305.1 585.4,304.9 586.5,304.4 587.6,304.3 588.8,304.2 589.9,303.7 591,303.7 592.2,303.1 593.3,302.9 594.4,302.6 595.6,302.5 596.7,302.3 597.8,302 598.9,301.8 600.1,301.3 601.2,301.4 602.3,300.8 603.5,300.9 604.6,300.6 605.7,300.4 606.9,300 608,300 609.1,299.8 610.2,299.5 611.4,299.5 612.5,299.3 613.6,299.1 614.8,298.8 615.9,298.6 617,298.5 618.2,298.4 619.3,298.2 620.4,298.1 621.5,297.7 622.7,297.6 623.8,297.4 624.9,297.4 626.1,297.1 627.2,296.8 628.3,296.7 629.4,296.7 630.6,296.4 631.7,296.1 632.8,296.1 634,296 635.1,295.8 636.2,295.5 637.4,295.3 638.5,295.4 639.6,295.3 640.7,295.1 641.9,295 643,294.7 644.1,294.7 645.3,294.5 646.4,294.5 647.5,294 648.7,294 649.8,294.1 650.9,293.6 652,293.8 653.2,293.6 654.3,293.2 655.4,293.1 656.6,293 657.7,293 658.8,292.9 660,292.6 661.1,292.7 662.2,292.6 663.3,292.4 664.5,292.4 665.6,292.2 666.7,291.9 667.9,291.9 669,291.9 670.1,291.7 671.3,291.7 672.4,291.7 673.5,291.4 674.6,291.4 675.8,291.2 676.9,291 678,291.1 679.2,290.9 680.3,290.8 681.4,290.8 682.6,290.8 683.7,290.5 684.8,290.3 685.9,290.3 687.1,290.2 688.2,290 689.3,290 690.5,289.9 691.6,289.9 692.7,289.9 693.9,289.7 695,289.9 696.1,289.7 697.2,289.5 698.4,289.5 699.5,289.4 700.6,289.5 701.8,289.4 702.9,289.4 704,289.2 705.2,289.3 706.3,289.1 707.4,288.9 708.5,289.2 709.7,288.9 710.8,288.8 711.9,288.9 713.1,288.8 714.2,288.6 715.3,288.9 716.5,288.7 717.6,288.8 718.7,288.4 719.8,288.3 721,288.4 722.1,288.6 723.2,288.3 724.4,288.3 725.5,288.1 726.6,288.2 727.8,288.1 728.9,287.9 730,288 731.1,288 732.3,287.7 733.4,288 734.5,287.7 735.7,287.8 736.8,287.6 737.9,287.8 739,287.4 740.2,287.6 741.3,287.6 742.4,287.5 743.6,287.4 744.7,287.5 745.8,287.3 747,287.2 748.1,287 749.2,287.1 750.3,287.1 751.5,287.1 752.6,286.9 753.7,286.8 754.9,286.9 756,287 757.1,286.7 758.3,286.9 759.4,286.9 760.5,286.9 761.6,286.6 762.8,286.6 763.9,286.6 765,286.7 766.2,286.6 767.3,286.7 768.4,286.4 769.6,286.6 770.7,286.5 771.8,286.4 772.9,286.3 774.1,286.4 775.2,286.5 776.3,286.3 777.5,286.5 778.6,286.2 779.7,286.3 780.9,286.1 782,286.3 783.1,286.2 784.2,286.3 785.4,286.2 786.5,286.2 787.6,286.3 788.8,286 789.9,286.1 791,286.1 792.2,286 793.3,285.9 794.4,285.9 795.5,285.8 796.7,285.8 797.8,285.9 798.9,285.6 800.1,285.6 801.2,285.9 802.3,285.6 803.5,285.5 804.6,285.5 805.7,285.7 806.8,285.4 808,285.5 809.1,285.7 810.2,285.7 811.4,285.3 812.5,285.4 813.6,285.5 814.8,285.5 815.9,285.5 817,285.4 818.1,285.2 819.3,285.3 820.4,285.4 821.5,285.1 822.7,285.1 823.8,285.3 824.9,285 826.1,285.1 827.2,285 828.3,285.1 829.4,285 830.6,285 831.7,285 832.8,285.2 834,285 835.1,285 836.2,284.9 837.3,285.1 838.5,284.9 839.6,285 840.7,285.1 841.9,285.1 843,285.1 844.1,284.9 845.3,285.1 846.4,284.9 847.5,285 848.6,284.9 849.8,284.9 850.9,284.9 852,284.7 853.2,285 854.3,284.7 855.4,284.8 856.6,284.8 857.7,284.7 858.8,284.6 859.9,284.8 861.1,284.8 862.2,284.5 863.3,284.9 864.5,284.6 865.6,284.6 866.7,284.9 867.9,284.6 869,284.6 870.1,284.5 871.2,284.7 872.4,284.4 873.5,284.6 874.6,284.6 875.8,284.4 876.9,284.7 878,284.5 879.2,284.5 880.3,284.6 881.4,284.4 882.5,284.5 883.7,284.5 884.8,284.4 885.9,284.3 887.1,284.5 888.2,284.4 889.3,284.4 890.5,284.4 891.6,284.2 892.7,284.4 893.8,284.2 895,284.4 896.1,284.3 897.2,284.4 898.4,284.3 899.5,284.1 900.6,284.2 901.8,284.1 902.9,284.3 904,284.3 905.1,284.3 906.3,284.2 907.4,284.1 908.5,284.1 909.7,284.3 910.8,284.1 911.9,284 913.1,284.1 914.2,284.3 915.3,284.2 916.4,284.3 917.6,284.2 918.7,283.9 919.8,284 921,284 922.1,283.9 923.2,283.8 924.4,283.9 925.5,283.9 926.6,283.9 927.7,283.9 928.9,283.9 930,283.8" fill="none" stroke="#a6cee3" stroke-width="3.4" stroke-linejoin="round" stroke-linecap="butt"/>
<polyline points="525.5,363.9 526.6,362.2 532.3,362.2 535.7,360.5 545.8,360.5 549.2,362.2 602.3,362.2 605.7,360.5 613.6,360.5 617,362.2 624.9,362.2 628.3,360.5 636.2,360.5 639.6,362.2 656.6,362.2 660,360.5 670.1,360.5 673.5,362.2 683.7,362.2 687.1,360.5 706.3,360.5 709.7,358.9 717.6,358.9 721,360.5 737.9,360.5 741.3,358.9 758.3,358.9 761.6,360.5 771.8,360.5 775.2,358.9 783.1,358.9 786.5,357.2 796.7,357.2 800.1,358.9 817,358.9 820.4,357.2 828.3,357.2 831.7,358.9 839.6,358.9 843,357.2 898.4,357.2 901.8,355.6 915.3,355.6 918.7,357.2 930,357.2" fill="none" stroke="#1f78b4" stroke-width="3.4" stroke-linejoin="round" stroke-linecap="butt"/>
<polyline points="525.5,377.1 554.9,377.1 559.4,375.5 568.4,375.5 571.8,373.8 582,373.8 585.4,372.1 593.3,372.1 596.7,370.5 606.9,370.5 610.2,368.8 621.5,368.8 624.9,367.2 636.2,367.2 639.6,365.5 670.1,365.5 673.5,363.9 704,363.9 707.4,362.2 796.7,362.2 800.1,360.5 909.7,360.5 913.1,358.9 930,358.9" fill="none" stroke="#33a02c" stroke-width="3.4" stroke-linejoin="round" stroke-linecap="butt"/>
<polyline points="525.5,354.5 526.6,323.8 527.8,318 528.9,317.4 530,318.7 531.1,318.7 532.3,319 533.4,317.4 534.5,317 535.7,317.5 536.8,318.1 537.9,317.3 539.1,317.3 540.2,317.7 541.3,319.6 542.4,319.5 543.6,319.3 544.7,319.5 545.8,319.3 547,318.8 548.1,318.1 549.2,319.9 550.4,319 551.5,320 552.6,320 553.7,318.5 554.9,318.9 556,318.2 557.1,319.1 558.3,320.1 559.4,319.4 560.5,318.9 561.7,318.1 562.8,318 563.9,319 565,319.3 566.2,319.9 567.3,318.9 568.4,319.7 569.6,319.9 570.7,320.2 571.8,320.2 573,318.8 574.1,319.8 575.2,318.5 576.3,320.4 577.5,319.3 578.6,321 579.7,321.6 580.9,320.5 582,321.6 583.1,321 584.3,322.3 585.4,322.7 586.5,321.3 587.6,321.2 588.8,320.9 589.9,321.2 591,322.6 592.2,321.6 593.3,321.3 594.4,321.8 595.6,320.9 596.7,322.2 597.8,320.8 598.9,321.2 600.1,322.7 601.2,322.9 602.3,321.6 603.5,321.1 604.6,322.6 605.7,322.3 606.9,321.4 608,322.5 609.1,321.1 610.2,321.8 611.4,322.7 612.5,322.2 613.6,321.7 614.8,321.9 615.9,321.5 617,322.5 618.2,321.3 619.3,322.1 620.4,321.6 621.5,321.5 622.7,322 623.8,322.1 624.9,321.3 626.1,320.9 627.2,321.2 628.3,321.6 629.4,322.3 630.6,322.8 631.7,321 632.8,321.4 634,321.1 635.1,322.2 636.2,321.7 637.4,320.9 638.5,321.1 639.6,321.6 640.7,322.3 641.9,322.1 643,321.1 644.1,322.1 645.3,321.5 646.4,321.7 647.5,321.1 648.7,321.2 649.8,322.3 650.9,323 652,322.5 653.2,322.1 654.3,321.8 655.4,321.3 656.6,321.1 657.7,322.8 658.8,321.3 660,321.2 661.1,321.1 662.2,321.7 663.3,322.4 664.5,321.3 665.6,321.3 666.7,321.5 667.9,321.1 669,322.2 670.1,322.9 671.3,322 672.4,321.4 673.5,322.5 674.6,321.5 675.8,321 676.9,322.5 678,321.8 679.2,321.6 680.3,322 681.4,322.6 682.6,322.6 683.7,321.5 684.8,321.4 685.9,322 687.1,322.9 688.2,321.5 689.3,321.4 690.5,322.5 691.6,321.9 692.7,321.2 693.9,321.2 695,321.9 696.1,322.1 697.2,321.9 698.4,322.7 699.5,322.8 700.6,322.8 701.8,321.7 702.9,322.3 704,322 705.2,322.3 706.3,322.1 707.4,322.8 708.5,323.1 709.7,321.2 710.8,322.3 711.9,322.9 713.1,321.9 714.2,321.5 715.3,322.8 716.5,322 717.6,322.4 718.7,322.1 719.8,323.1 721,323.2 722.1,321.2 723.2,321.3 724.4,322.1 725.5,322 726.6,322.6 727.8,321.6 728.9,322.2 730,321.2 731.1,321.5 732.3,321.4 733.4,321.1 734.5,322.6 735.7,323.2 736.8,322.9 737.9,322.9 739,323.1 740.2,323.2 741.3,322.2 742.4,321.4 743.6,322.2 744.7,321.3 745.8,321.2 747,323 748.1,322.1 749.2,322.4 750.3,323 751.5,321.3 752.6,322.6 753.7,322.1 754.9,321.9 756,321.2 757.1,321.8 758.3,322.4 759.4,322.4 760.5,323 761.6,321.3 762.8,321.1 763.9,322.7 765,323.3 766.2,322.9 767.3,322.6 768.4,321.5 769.6,321.3 770.7,321.5 771.8,323.1 772.9,321.8 774.1,321.8 775.2,321.9 776.3,321.2 777.5,323.1 778.6,323.1 779.7,321.8 780.9,321.3 782,321.8 783.1,322.7 784.2,322.2 785.4,321.8 786.5,323.1 787.6,322.8 788.8,322.9 789.9,323.2 791,322.4 792.2,323 793.3,322.9 794.4,323.1 795.5,322 796.7,323.3 797.8,322 798.9,322.9 800.1,323.4 801.2,321.6 802.3,322.9 803.5,321.5 804.6,321.5 805.7,321.5 806.8,323 808,322.5 809.1,323.2 810.2,321.6 811.4,321.6 812.5,322 813.6,322.5 814.8,322.7 815.9,321.8 817,322.4 818.1,322.1 819.3,323.1 820.4,323.1 821.5,323.4 822.7,322.1 823.8,322.3 824.9,323.1 826.1,321.7 827.2,322.8 828.3,322.7 829.4,323.2 830.6,323 831.7,321.8 832.8,322.7 834,323.2 835.1,322.5 836.2,322.8 837.3,321.7 838.5,323.2 839.6,321.5 840.7,323.3 841.9,321.7 843,322 844.1,323 845.3,322.6 846.4,322.9 847.5,323 848.6,323.2 849.8,322.8 850.9,321.5 852,321.4 853.2,321.5 854.3,323.2 855.4,323 856.6,321.7 857.7,323.4 858.8,322.1 859.9,322.9 861.1,321.6 862.2,323.4 863.3,322 864.5,322.8 865.6,323.3 866.7,323.7 867.9,322 869,322.4 870.1,323.2 871.2,322.8 872.4,321.7 873.5,323.1 874.6,322.5 875.8,323.3 876.9,323.3 878,322.1 879.2,322.1 880.3,323.2 881.4,323.5 882.5,323.5 883.7,322.5 884.8,322.6 885.9,323.1 887.1,323.3 888.2,322.4 889.3,322.2 890.5,321.9 891.6,322.4 892.7,323.2 893.8,323.6 895,322.2 896.1,322.8 897.2,322.2 898.4,323.5 899.5,322.1 900.6,322.9 901.8,322 902.9,321.8 904,322.6 905.1,323.7 906.3,321.9 907.4,322.6 908.5,321.9 909.7,323.1 910.8,323.4 911.9,322 913.1,322.9 914.2,323.4 915.3,323 916.4,322.5 917.6,323.7 918.7,322.8 919.8,322.8 921,322.7 922.1,323.5 923.2,322.3 924.4,322 925.5,321.9 926.6,323 927.7,322.3 928.9,322.9 930,326" fill="none" stroke="#fb9a99" stroke-width="3.3" stroke-linejoin="round" stroke-linecap="butt"/>
<rect x="512.8" y="454.8" width="12.2" height="3.8" rx="1.3" fill="#d9232a"/>
<text x="530.38" y="461.6" font-size="13.5" fill="#e2e2e2" stroke="#e2e2e2" stroke-width="0.6" textLength="47.36" lengthAdjust="spacingAndGlyphs">System</text>
<rect x="587" y="454.8" width="12.2" height="3.8" rx="1.3" fill="#a6cee3"/>
<text x="603.64" y="461.6" font-size="13.5" fill="#e2e2e2" stroke="#e2e2e2" stroke-width="0.6" textLength="55.10" lengthAdjust="spacingAndGlyphs">Package</text>
<rect x="668.4" y="454.8" width="12.2" height="3.8" rx="1.3" fill="#1f78b4"/>
<text x="685.62" y="461.6" font-size="13.5" fill="#e2e2e2" stroke="#e2e2e2" stroke-width="0.6" textLength="60.20" lengthAdjust="spacingAndGlyphs">Assembly</text>
<rect x="756.7" y="454.8" width="12.2" height="3.8" rx="1.3" fill="#b2df8a"/>
<text x="774.62" y="461.6" font-size="13.5" fill="#e2e2e2" stroke="#e2e2e2" stroke-width="0.6" textLength="60.20" lengthAdjust="spacingAndGlyphs">Assembly</text>
<rect x="844.9" y="454.8" width="12.2" height="3.8" rx="1.3" fill="#33a02c"/>
<text x="863.74" y="461.6" font-size="13.5" fill="#e2e2e2" stroke="#e2e2e2" stroke-width="0.6" textLength="60.20" lengthAdjust="spacingAndGlyphs">Assembly</text>
<rect x="512.8" y="474.8" width="12.2" height="3.8" rx="1.3" fill="#fb9a99"/>
<text x="530.38" y="481.6" font-size="13.5" fill="#e2e2e2" stroke="#e2e2e2" stroke-width="0.6" textLength="27.92" lengthAdjust="spacingAndGlyphs">GPU</text>
<line x1="1005.5" y1="454" x2="1410" y2="454" stroke="#d2d2d2" stroke-width="1.45"/>
<text x="1001" y="457.2" text-anchor="end" font-family="DejaVu Sans, sans-serif" font-size="8.8" fill="#cfcfcf">0W</text>
<line x1="1005.5" y1="410.1" x2="1410" y2="410.1" stroke="#d2d2d2" stroke-width="1.45"/>
<text x="1001" y="413.3" text-anchor="end" font-family="DejaVu Sans, sans-serif" font-size="8.8" fill="#cfcfcf">20W</text>
<line x1="1005.5" y1="366.2" x2="1410" y2="366.2" stroke="#d2d2d2" stroke-width="1.45"/>
<text x="1001" y="369.4" text-anchor="end" font-family="DejaVu Sans, sans-serif" font-size="8.8" fill="#cfcfcf">40W</text>
<line x1="1005.5" y1="322.4" x2="1410" y2="322.4" stroke="#d2d2d2" stroke-width="1.45"/>
<text x="1001" y="325.6" text-anchor="end" font-family="DejaVu Sans, sans-serif" font-size="8.8" fill="#cfcfcf">60W</text>
<line x1="1005.5" y1="278.5" x2="1410" y2="278.5" stroke="#d2d2d2" stroke-width="1.45"/>
<text x="1001" y="281.7" text-anchor="end" font-family="DejaVu Sans, sans-serif" font-size="8.8" fill="#cfcfcf">80W</text>
<line x1="1005.5" y1="234.6" x2="1410" y2="234.6" stroke="#d2d2d2" stroke-width="1.45"/>
<text x="1001" y="237.8" text-anchor="end" font-family="DejaVu Sans, sans-serif" font-size="8.8" fill="#cfcfcf">100W</text>
<line x1="1005.5" y1="234.6" x2="1005.5" y2="454" stroke="#d2d2d2" stroke-width="1.25"/>
<text x="1005.5" y="468" text-anchor="middle" font-family="DejaVu Sans, sans-serif" font-size="8.8" fill="#cfcfcf">0s</text>
<line x1="1231.5" y1="234.6" x2="1231.5" y2="454" stroke="#d2d2d2" stroke-width="1.25"/>
<text x="1231.5" y="468" text-anchor="middle" font-family="DejaVu Sans, sans-serif" font-size="8.8" fill="#cfcfcf">3m20s</text>
<polyline points="1005.5,451.8 1007.8,450.7 1009.1,446.3 1010.6,429.6 1186.3,430.3 1189.7,431.2 1193.1,430.3 1410,431" fill="none" stroke="#a6cee3" stroke-width="2.5" stroke-linejoin="round" stroke-linecap="butt"/>
<polyline points="1005.5,451.4 1007.8,450.3 1009.1,445.9 1010.6,429.2 1186.3,429.9 1189.7,430.7 1193.1,429.9 1410,430.5" fill="none" stroke="#1f78b4" stroke-width="2.5" stroke-linejoin="round" stroke-linecap="butt"/>
<polyline points="1005.5,450.1 1007.8,449 1009.1,444.6 1010.6,427.9 1186.3,428.5 1189.7,429.4 1193.1,428.5 1410,429.2" fill="none" stroke="#b2df8a" stroke-width="3.4" stroke-linejoin="round" stroke-linecap="butt"/>
<polyline points="1005.5,451.8 1006.6,449.6 1008.3,428.1 1186.3,428.8 1189.7,429.6 1193.1,428.8 1410,429.4" fill="none" stroke="#33a02c" stroke-width="3.4" stroke-linejoin="round" stroke-linecap="butt"/>
<polyline points="1005.5,395.9 1006.6,381.6 1008,381.6 1009.8,261.8 1186.3,261.8 1189.7,264.9 1192.5,261.8 1410,262.2" fill="none" stroke="#d9232a" stroke-width="3.4" stroke-linejoin="round" stroke-linecap="butt"/>
<rect x="1009.9" y="475.8" width="12.2" height="3.8" rx="1.3" fill="#d9232a"/>
<text x="1027.76" y="482.6" font-size="13.5" fill="#e2e2e2" stroke="#e2e2e2" stroke-width="0.6" textLength="54.36" lengthAdjust="spacingAndGlyphs">Package</text>
<rect x="1091" y="475.8" width="12.2" height="3.8" rx="1.3" fill="#a6cee3"/>
<text x="1108.94" y="482.6" font-size="13.5" fill="#e2e2e2" stroke="#e2e2e2" stroke-width="0.6" textLength="49.18" lengthAdjust="spacingAndGlyphs">Core #0</text>
<rect x="1167.7" y="475.8" width="12.2" height="3.8" rx="1.3" fill="#1f78b4"/>
<text x="1185.44" y="482.6" font-size="13.5" fill="#e2e2e2" stroke="#e2e2e2" stroke-width="0.6" textLength="48.24" lengthAdjust="spacingAndGlyphs">Core #1</text>
<rect x="1243.9" y="475.8" width="12.2" height="3.8" rx="1.3" fill="#b2df8a"/>
<text x="1261.20" y="482.6" font-size="13.5" fill="#e2e2e2" stroke="#e2e2e2" stroke-width="0.6" textLength="49.48" lengthAdjust="spacingAndGlyphs">Core #2</text>
<rect x="1320.2" y="475.8" width="12.2" height="3.8" rx="1.3" fill="#33a02c"/>
<text x="1337.82" y="482.6" font-size="13.5" fill="#e2e2e2" stroke="#e2e2e2" stroke-width="0.6" textLength="49.42" lengthAdjust="spacingAndGlyphs">Core #3</text>
<line x1="519.4" y1="774" x2="930" y2="774" stroke="#d2d2d2" stroke-width="1.45"/>
<text x="515" y="777.2" text-anchor="end" font-family="DejaVu Sans, sans-serif" font-size="8.8" fill="#cfcfcf">0V</text>
<line x1="519.4" y1="705.5" x2="930" y2="705.5" stroke="#d2d2d2" stroke-width="1.45"/>
<text x="515" y="708.7" text-anchor="end" font-family="DejaVu Sans, sans-serif" font-size="8.8" fill="#cfcfcf">0,5V</text>
<line x1="519.4" y1="637.1" x2="930" y2="637.1" stroke="#d2d2d2" stroke-width="1.45"/>
<text x="515" y="640.3" text-anchor="end" font-family="DejaVu Sans, sans-serif" font-size="8.8" fill="#cfcfcf">1V</text>
<line x1="519.4" y1="568.6" x2="930" y2="568.6" stroke="#d2d2d2" stroke-width="1.45"/>
<text x="515" y="571.8" text-anchor="end" font-family="DejaVu Sans, sans-serif" font-size="8.8" fill="#cfcfcf">1,5V</text>
<line x1="519.4" y1="554" x2="519.4" y2="774" stroke="#d2d2d2" stroke-width="1.25"/>
<text x="519.4" y="788" text-anchor="middle" font-family="DejaVu Sans, sans-serif" font-size="8.8" fill="#cfcfcf">0s</text>
<line x1="748.8" y1="554" x2="748.8" y2="774" stroke="#d2d2d2" stroke-width="1.25"/>
<text x="748.8" y="788" text-anchor="middle" font-family="DejaVu Sans, sans-serif" font-size="8.8" fill="#cfcfcf">3m20s</text>
<polyline points="519.4,643.9 930,643.9" fill="none" stroke="#33a02c" stroke-width="3.4" stroke-linejoin="round" stroke-linecap="butt"/>
<polyline points="519.4,596.5 520.9,602.9 522.4,606.3 523.9,610 525.4,610.9 526.9,611.2 528.3,611.4 529.8,613.7 531.3,610 532.8,612.9 534.3,613.4 535.8,613.9 537.3,613.4 538.8,611 540.3,614.2 541.8,614.3 543.3,611.8 544.7,613.7 546.2,614.7 547.7,612.4 549.2,612.4 550.7,612.6 552.2,612 553.7,614.5 555.2,611.6 556.7,612 558.2,614.9 559.7,614.9 561.1,613.4 562.6,613.2 564.1,614.2 565.6,615 567.1,613.9 568.6,615 570.1,613.2 571.6,612 573.1,614.9 574.6,613.4 576.1,612.6 577.5,615 579,612.5 580.5,611.8 582,614 583.5,614.2 585,612.5 586.5,613.6 588,614.3 589.5,612.1 591,612.6 592.5,614.6 594,615.2 595.4,614.9 596.9,614.4 598.4,612.1 599.9,612.7 601.4,612.3 602.9,612.7 604.4,612.6 605.9,616 607.4,614.4 608.9,612.4 610.4,612.3 611.8,615.2 613.3,614.8 614.8,613.9 616.3,614.9 617.8,614.3 619.3,616.2 620.8,614.9 622.3,614.5 623.8,616.5 625.3,616.2 626.8,612.7 628.2,613.2 629.7,612.6 631.2,613.8 632.7,613.2 634.2,612.9 635.7,612.8 637.2,616.4 638.7,614.2 640.2,615.6 641.7,614 643.2,615.6 644.6,614.6 646.1,612.9 647.6,614 649.1,615.7 650.6,614.8 652.1,615 653.6,612.9 655.1,615.5 656.6,615.7 658.1,614.3 659.6,616.3 661,614.6 662.5,612.9 664,614.6 665.5,615.8 667,615.1 668.5,614.7 670,616.3 671.5,616.6 673,616.6 674.5,615.9 676,615.4 677.4,615.8 678.9,616.1 680.4,616.8 681.9,614.9 683.4,613.5 684.9,614.3 686.4,614.6 687.9,614.3 689.4,616.1 690.9,614.2 692.4,615 693.8,614.8 695.3,614.5 696.8,615.1 698.3,615.8 699.8,616.1 701.3,616.3 702.8,615.1 704.3,615.5 705.8,614.7 707.3,617 708.8,615.8 710.2,613.6 711.7,616 713.2,614.9 714.7,615 716.2,615.9 717.7,613.1 719.2,615.7 720.7,614 722.2,616.4 723.7,617 725.2,613.7 726.6,615.2 728.1,616.9 729.6,615.7 731.1,615.4 732.6,614.1 734.1,616.6 735.6,616.4 737.1,613.3 738.6,613.9 740.1,616.4 741.6,615.9 743.1,615.8 744.5,614.4 746,614.5 747.5,613.6 749,613.6 750.5,614.9 752,614.1 753.5,614 755,613.9 756.5,615.1 758,613.9 759.5,614.1 760.9,613.3 762.4,616.5 763.9,613.7 765.4,617 766.9,614.2 768.4,614.7 769.9,615.1 771.4,613.2 772.9,614.6 774.4,615.4 775.9,614 777.3,613.4 778.8,614.5 780.3,615.6 781.8,615.4 783.3,615.3 784.8,614.2 786.3,615.9 787.8,615.7 789.3,614.9 790.8,615.6 792.3,615.9 793.7,614 795.2,613.5 796.7,615 798.2,615.3 799.7,616.5 801.2,616.1 802.7,616.7 804.2,615 805.7,614.8 807.2,616.8 808.7,613.5 810.1,615.7 811.6,613.8 813.1,613.6 814.6,613.1 816.1,616.2 817.6,615.5 819.1,613.5 820.6,617 822.1,617.2 823.6,615.1 825.1,615.1 826.5,613.4 828,613.8 829.5,614.8 831,613 832.5,614.9 834,615 835.5,614.4 837,615.5 838.5,615.8 840,614.8 841.5,615.7 842.9,613.3 844.4,614.2 845.9,614.9 847.4,616.8 848.9,615.8 850.4,615.6 851.9,614.9 853.4,614.8 854.9,613.5 856.4,613 857.9,615 859.3,615.4 860.8,614.6 862.3,613 863.8,615.6 865.3,615.1 866.8,613.8 868.3,616.4 869.8,616 871.3,613.2 872.8,613.6 874.3,614.9 875.8,616.8 877.2,613.7 878.7,614.2 880.2,613.7 881.7,613 883.2,613.3 884.7,615.3 886.2,616.6 887.7,616.2 889.2,615.2 890.7,615.1 892.2,616.5 893.6,616.6 895.1,614.8 896.6,614.7 898.1,615.7 899.6,613.1 901.1,614.4 902.6,617 904.1,615.7 905.6,614 907.1,615.8 908.6,614.4 910,617.2 911.5,616.2 913,613.8 914.5,614.7 916,614.4 917.5,616.3 919,615.3 920.5,614.9 922,616.1 923.5,614.6 925,615 926.4,613.1 927.9,614.6 929.4,615.5 930,615.2" fill="none" stroke="#b2df8a" stroke-width="3.4" stroke-linejoin="round" stroke-linecap="butt"/>
<polyline points="519.4,592 522.3,602.3 525.1,604.3 528,604.8 530.9,604.3 533.7,604.3 536.6,605.2 539.5,605.6 542.3,604.8 545.2,605.6 548.1,604.8 550.9,606 553.8,606.8 556.7,606 559.5,606 562.4,606 565.3,607.2 568.1,605.6 571,607.2 573.9,605.6 576.7,606.4 579.6,606.8 582.5,606 585.3,606.8 588.2,606 591.1,607.6 594,606 596.8,608 599.7,608 602.6,608 605.4,607.2 608.3,607.2 611.2,606.4 614,608 616.9,607.2 619.8,607.2 622.6,607.6 625.5,606.8 628.4,607.6 631.2,606.8 634.1,607.6 637,607.6 639.8,607.6 642.7,608.4 645.6,608.4 648.4,607.6 651.3,607.6 654.2,607.6 657,607.2 659.9,608.9 662.8,608 665.6,608 668.5,608 671.4,607.2 674.2,608 677.1,608.9 680,608.9 682.8,607.2 685.7,608.9 688.6,608 691.4,608.9 694.3,608 697.2,608 700,608.9 702.9,608.9 705.8,608.9 708.6,608 711.5,608 714.4,608.9 717.2,608 720.1,608.4 723,608.4 725.8,608.4 728.7,609.3 731.6,607.6 734.4,608.4 737.3,608.4 740.2,608.4 743.1,608.4 745.9,608.4 748.8,608.4 751.7,608.4 754.5,608.4 757.4,608.4 760.3,608.4 763.1,608.4 766,608.4 768.9,608.4 771.7,608.4 774.6,608.4 777.5,608.4 780.3,608.4 783.2,608.4 786.1,608.4 788.9,608.4 791.8,608.4 794.7,608.4 797.5,608.4 800.4,608.4 803.3,608.4 806.1,608.4 809,608.4 811.9,608.4 814.7,608.4 817.6,608.4 820.5,608.4 823.3,608.4 826.2,608.4 829.1,608.4 831.9,608.4 834.8,608.4 837.7,607.2 840.5,607.2 843.4,608.4 846.3,608.4 849.1,608.4 852,608.4 854.9,608.4 857.7,608.4 860.6,608.4 863.5,608.4 866.3,608.4 869.2,608.4 872.1,608.4 874.9,608.4 877.8,608.4 880.7,608.4 883.5,608.4 886.4,608.4 889.3,608.4 892.2,608.4 895,608.4 897.9,608.4 900.8,608.4 903.6,608.4 906.5,608.4 909.4,608.4 912.2,608.4 915.1,608.4 918,608.4 920.8,608.4 923.7,608.4 926.6,608.4 929.4,608.4 930,608.6" fill="none" stroke="#a6cee3" stroke-width="3.4" stroke-linejoin="round" stroke-linecap="butt"/>
<polyline points="519.4,587.5 930,587.5" fill="none" stroke="#1f78b4" stroke-width="3.4" stroke-linejoin="round" stroke-linecap="butt"/>
<line x1="519.4" y1="773.3" x2="930" y2="773.3" stroke="#d9232a" stroke-width="2.4"/>
<rect x="537.4" y="795.8" width="12.2" height="3.8" rx="1.3" fill="#d9232a"/>
<text x="555.44" y="802.6" font-size="13.5" fill="#e2e2e2" stroke="#e2e2e2" stroke-width="0.6" textLength="35.56" lengthAdjust="spacingAndGlyphs">VDDP</text>
<rect x="601.1" y="795.8" width="12.2" height="3.8" rx="1.3" fill="#a6cee3"/>
<text x="618.32" y="802.6" font-size="13.5" fill="#e2e2e2" stroke="#e2e2e2" stroke-width="0.6" textLength="75.30" lengthAdjust="spacingAndGlyphs">CPU VCORE</text>
<rect x="703.3" y="795.8" width="12.2" height="3.8" rx="1.3" fill="#1f78b4"/>
<text x="720.20" y="802.6" font-size="13.5" fill="#e2e2e2" stroke="#e2e2e2" stroke-width="0.6" textLength="40.16" lengthAdjust="spacingAndGlyphs">DRAM</text>
<rect x="769.9" y="795.8" width="12.2" height="3.8" rx="1.3" fill="#b2df8a"/>
<text x="787.32" y="802.6" font-size="13.5" fill="#e2e2e2" stroke="#e2e2e2" stroke-width="0.6" textLength="57.92" lengthAdjust="spacingAndGlyphs">CPU VDD</text>
<rect x="854.6" y="795.8" width="12.2" height="3.8" rx="1.3" fill="#33a02c"/>
<text x="873.06" y="802.6" font-size="13.5" fill="#e2e2e2" stroke="#e2e2e2" stroke-width="0.6" textLength="26.56" lengthAdjust="spacingAndGlyphs">GPU</text>
<line x1="1020" y1="774.5" x2="1410" y2="774.5" stroke="#d2d2d2" stroke-width="1.45"/>
<text x="1015.3" y="777.7" text-anchor="end" font-family="DejaVu Sans, sans-serif" font-size="8.8" fill="#cfcfcf">0rpm</text>
<line x1="1020" y1="719.5" x2="1410" y2="719.5" stroke="#d2d2d2" stroke-width="1.45"/>
<text x="1015.3" y="722.7" text-anchor="end" font-family="DejaVu Sans, sans-serif" font-size="8.8" fill="#cfcfcf">1000rpm</text>
<line x1="1020" y1="664.5" x2="1410" y2="664.5" stroke="#d2d2d2" stroke-width="1.45"/>
<text x="1015.3" y="667.7" text-anchor="end" font-family="DejaVu Sans, sans-serif" font-size="8.8" fill="#cfcfcf">2000rpm</text>
<line x1="1020" y1="609.5" x2="1410" y2="609.5" stroke="#d2d2d2" stroke-width="1.45"/>
<text x="1015.3" y="612.7" text-anchor="end" font-family="DejaVu Sans, sans-serif" font-size="8.8" fill="#cfcfcf">3000rpm</text>
<line x1="1020" y1="554.5" x2="1410" y2="554.5" stroke="#d2d2d2" stroke-width="1.45"/>
<text x="1015.3" y="557.7" text-anchor="end" font-family="DejaVu Sans, sans-serif" font-size="8.8" fill="#cfcfcf">4000rpm</text>
<line x1="1020" y1="554.5" x2="1020" y2="774.5" stroke="#d2d2d2" stroke-width="1.25"/>
<text x="1020" y="788" text-anchor="middle" font-family="DejaVu Sans, sans-serif" font-size="8.8" fill="#cfcfcf">0s</text>
<line x1="1237.9" y1="554.5" x2="1237.9" y2="774.5" stroke="#d2d2d2" stroke-width="1.25"/>
<text x="1237.9" y="788" text-anchor="middle" font-family="DejaVu Sans, sans-serif" font-size="8.8" fill="#cfcfcf">3m20s</text>
<polyline points="1020,676.6 1022.4,672.7 1024.8,671.5 1027.2,670.8 1029.6,669.9 1032,669.9 1034.4,670.6 1036.8,670.6 1039.2,670.8 1041.6,670.9 1044,670.1 1046.4,670.6 1048.8,670.3 1051.2,670.3 1053.6,670.6 1055.9,670.1 1058.3,670.7 1060.7,670.2 1063.1,670.7 1065.5,670.4 1067.9,670.6 1070.3,670.6 1072.7,669.8 1075.1,669.8 1077.5,670.4 1079.9,669.9 1082.3,670.5 1084.7,670.4 1087.1,669.9 1089.5,670 1091.9,670.7 1094.3,669.8 1096.7,670.5 1099.1,670.6 1101.5,670 1103.9,670.4 1106.3,670.5 1108.7,670.8 1111.1,670.9 1113.5,670.3 1115.9,670.6 1118.3,670.2 1120.7,670.4 1123.1,670.4 1125.5,669.8 1127.8,670.2 1130.2,670.2 1132.6,669.8 1135,670.5 1137.4,670.7 1139.8,669.9 1142.2,669.8 1144.6,670.5 1147,670.7 1149.4,670.1 1151.8,669.7 1154.2,670.5 1156.6,669.8 1159,669.7 1161.4,670.1 1163.8,670.3 1166.2,670.7 1168.6,670.9 1171,669.9 1173.4,670.5 1175.8,670.1 1178.2,670.5 1180.6,670 1183,670.1 1185.4,670.5 1187.8,670.7 1190.2,670.1 1192.6,670.7 1195,670.7 1197.4,670.3 1199.7,669.9 1202.1,670.1 1204.5,670.5 1206.9,669.8 1209.3,670.5 1211.7,670.9 1214.1,670.7 1216.5,670.4 1218.9,670.8 1221.3,670.8 1223.7,670.5 1226.1,670.2 1228.5,670.7 1230.9,670.5 1233.3,669.9 1235.7,669.6 1238.1,670 1240.5,670 1242.9,670.1 1245.3,670.7 1247.7,670.9 1250.1,670.9 1252.5,669.9 1254.9,670 1257.3,669.7 1259.7,670.7 1262.1,670.2 1264.5,670.3 1266.9,670 1269.3,670.4 1271.6,669.7 1274,670.7 1276.4,670.3 1278.8,670 1281.2,669.8 1283.6,669.9 1286,670 1288.4,669.9 1290.8,669.7 1293.2,670.3 1295.6,670.1 1298,669.8 1300.4,669.8 1302.8,670.3 1305.2,669.9 1307.6,669.8 1310,670.1 1312.4,670.1 1314.8,670.4 1317.2,670.2 1319.6,670.1 1322,670.7 1324.4,670.2 1326.8,669.7 1329.2,669.7 1331.6,669.9 1334,670.3 1336.4,670 1338.8,670.1 1341.2,670.3 1343.5,669.9 1345.9,670.7 1348.3,670.1 1350.7,670.8 1353.1,670.3 1355.5,670.3 1357.9,670.6 1360.3,670.1 1362.7,670.2 1365.1,670.1 1367.5,669.8 1369.9,670.5 1372.3,670.9 1374.7,670.6 1377.1,670.1 1379.5,670.6 1381.9,670.7 1384.3,669.9 1386.7,670 1389.1,670.3 1391.5,669.8 1393.9,670.4 1396.3,670.1 1398.7,670.6 1401.1,670.4 1403.5,670 1405.9,669.7 1408.3,669.7 1410,670.3" fill="none" stroke="#d9232a" stroke-width="3.7" stroke-linejoin="round" stroke-linecap="butt"/>
<polyline points="1020,774.6 1021.6,705.5 1023.3,683.9 1024.9,680.5 1026.5,677.6 1028.2,674.9 1029.8,672.4 1031.4,670.1 1033.1,667.5 1034.7,665.7 1036.3,663.4 1038,660.7 1039.6,658.6 1041.2,656.7 1042.9,654.5 1044.5,652.3 1046.1,650.5 1047.8,648.7 1049.4,646.2 1051,644.1 1052.7,642.7 1054.3,641.1 1055.9,639.7 1057.6,637.6 1059.2,637.2 1060.9,635.3 1062.5,634.2 1064.1,633.2 1065.8,631.4 1067.4,631 1069,629.6 1070.7,628.7 1072.3,628.6 1073.9,627.2 1075.6,627.2 1077.2,626.7 1078.8,626.3 1080.5,625.2 1082.1,624.8 1083.7,624.1 1085.4,623.6 1087,622.9 1088.6,622.2 1090.3,622 1091.9,621.9 1093.5,621.1 1095.2,620.9 1096.8,620.5 1098.4,619.5 1100.1,618.8 1101.7,618.8 1103.3,618.3 1105,617.7 1106.6,616.9 1108.2,616.6 1109.9,616 1111.5,615.4 1113.1,615.3 1114.8,614.4 1116.4,613.8 1118,614.1 1119.7,612.8 1121.3,612.5 1122.9,612.6 1124.6,611.8 1126.2,611.2 1127.8,610.4 1129.5,610.5 1131.1,609.8 1132.8,609 1134.4,608.6 1136,608 1137.7,608 1139.3,607.3 1140.9,607.3 1142.6,606.3 1144.2,605.7 1145.8,605.4 1147.5,604.9 1149.1,605 1150.7,603.9 1152.4,603.4 1154,603 1155.6,603 1157.3,602.4 1158.9,602.4 1160.5,601.5 1162.2,601.1 1163.8,601.2 1165.4,601.1 1167.1,600.3 1168.7,599.8 1170.3,599.2 1172,599 1173.6,599.1 1175.2,597.9 1176.9,598.2 1178.5,597.1 1180.1,597.3 1181.8,596.8 1183.4,595.9 1185,596.1 1186.7,595.7 1188.3,595 1189.9,594.3 1191.6,593.8 1193.2,593.6 1194.8,592.9 1196.5,593 1198.1,592.1 1199.7,592.5 1201.4,592 1203,591.4 1204.7,591.6 1206.3,591.1 1207.9,591.2 1209.6,591.3 1211.2,591 1212.8,591.3 1214.5,591.6 1216.1,591.5 1217.7,591.1 1219.4,591.1 1221,591.7 1222.6,591.1 1224.3,591 1225.9,591.5 1227.5,591.4 1229.2,591.8 1230.8,591.5 1232.4,591.6 1234.1,591.5 1235.7,592 1237.3,591.1 1239,591.6 1240.6,591.7 1242.2,591.3 1243.9,591.6 1245.5,591.7 1247.1,591.5 1248.8,592.1 1250.4,591.7 1252,591.8 1253.7,591.3 1255.3,591.3 1256.9,592 1258.6,591.8 1260.2,592.1 1261.8,591.9 1263.5,591.5 1265.1,591.4 1266.7,591.9 1268.4,592 1270,592.2 1271.6,591.8 1273.3,591.5 1274.9,592.3 1276.6,591.6 1278.2,592.4 1279.8,592.2 1281.5,592.2 1283.1,591.8 1284.7,592.2 1286.4,592.1 1288,591.9 1289.6,592.4 1291.3,591.8 1292.9,592.4 1294.5,592 1296.2,592.3 1297.8,592.4 1299.4,592.1 1301.1,592.2 1302.7,592.2 1304.3,592.2 1306,592.1 1307.6,592.5 1309.2,592.5 1310.9,592.1 1312.5,592.1 1314.1,592.2 1315.8,591.9 1317.4,592.1 1319,591.9 1320.7,592.5 1322.3,592 1323.9,592 1325.6,591.9 1327.2,592.5 1328.8,592.5 1330.5,591.9 1332.1,592.6 1333.7,591.9 1335.4,592 1337,592.8 1338.6,592.7 1340.3,592.2 1341.9,592.7 1343.5,592.9 1345.2,592.1 1346.8,592.6 1348.4,592.2 1350.1,592.9 1351.7,592.6 1353.4,592.4 1355,593 1356.6,592.9 1358.3,592.4 1359.9,592.2 1361.5,592.1 1363.2,593 1364.8,592.6 1366.4,592.4 1368.1,592.7 1369.7,592.5 1371.3,593 1373,593.1 1374.6,593.1 1376.2,593.2 1377.9,592.7 1379.5,592.7 1381.1,592.7 1382.8,593.1 1384.4,593.1 1386,593.1 1387.7,592.5 1389.3,592.3 1390.9,592.4 1392.6,593.3 1394.2,593.3 1395.8,592.4 1397.5,592.9 1399.1,592.6 1400.7,593.1 1402.4,593 1404,592.9 1405.6,593 1407.3,592.9 1408.9,593.5 1410,593" fill="none" stroke="#a6cee3" stroke-width="3.4" stroke-linejoin="round" stroke-linecap="butt"/>
<rect x="1138.8" y="795.8" width="12.2" height="3.8" rx="1.3" fill="#d9232a"/>
<text x="1156.38" y="802.6" font-size="13.5" fill="#e2e2e2" stroke="#e2e2e2" stroke-width="0.6" textLength="27.36" lengthAdjust="spacingAndGlyphs">CPU</text>
<rect x="1193.4" y="795.8" width="12.2" height="3.8" rx="1.3" fill="#a6cee3"/>
<text x="1211.00" y="802.6" font-size="13.5" fill="#e2e2e2" stroke="#e2e2e2" stroke-width="0.6" textLength="47.74" lengthAdjust="spacingAndGlyphs">GPU #0</text>
</svg>
</body></html>
